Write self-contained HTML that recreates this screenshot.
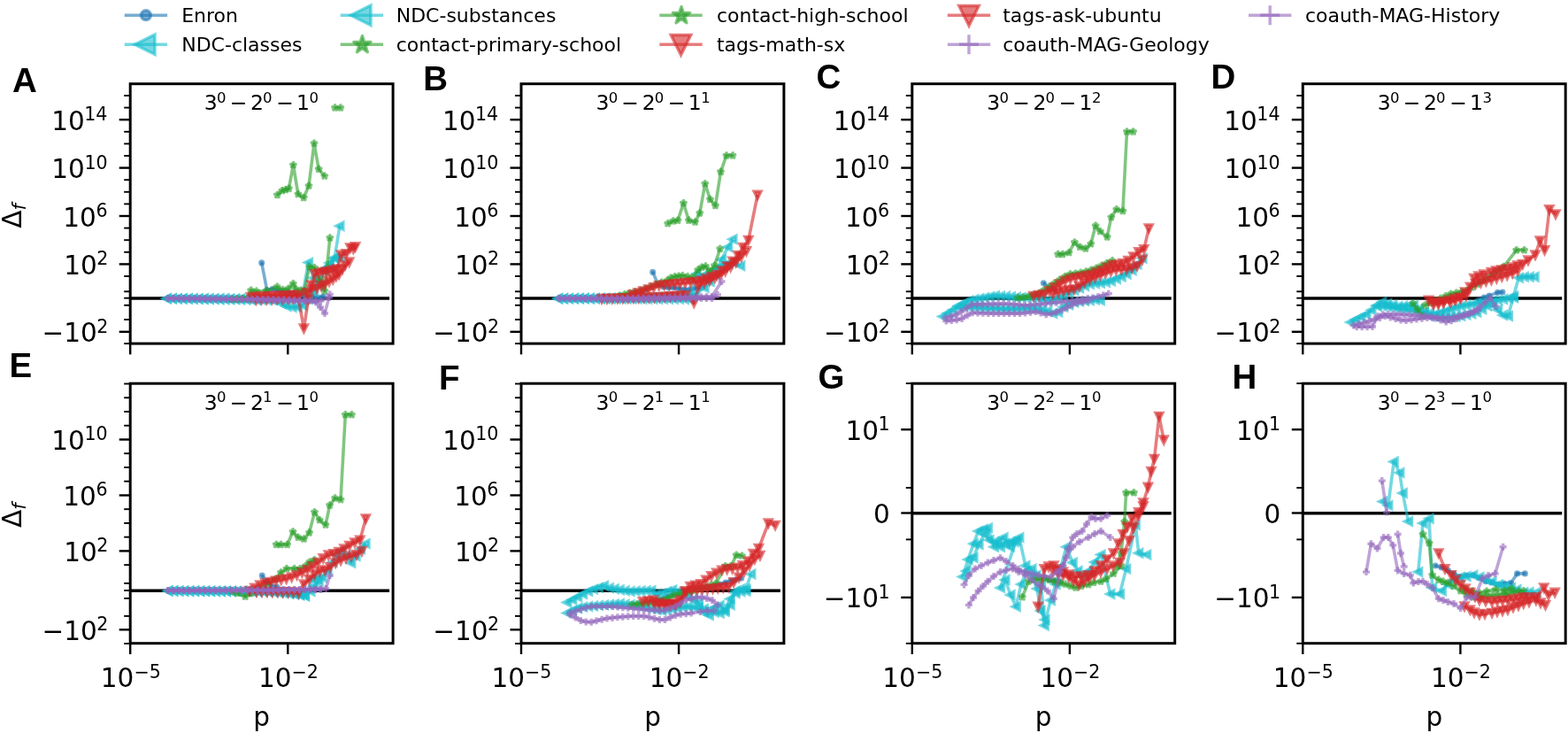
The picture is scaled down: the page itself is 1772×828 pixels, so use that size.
<!DOCTYPE html><html><head><meta charset="utf-8"><style>html,body{margin:0;padding:0;background:#fff;}svg{display:block} text{font-family:"DejaVu Sans","Liberation Sans",sans-serif;fill:#000}</style></head><body>
<svg width="1772" height="828" viewBox="0 0 1772 828">
<rect width="1772" height="828" fill="#fff"/>
<defs>
<circle id="mb0" r="1.85" fill="#1f77b4" fill-opacity="0.6" stroke="#1f77b4" stroke-opacity="0.6" stroke-width="3.4"/>
<path id="mb1" d="M-3.95,0L3.95,-3.95L3.95,3.95Z" fill="#1f77b4" fill-opacity="0.6" stroke="#1f77b4" stroke-opacity="0.6" stroke-width="3.4" stroke-linejoin="miter"/>
<path id="mb2" d="M0,3.95L-3.95,-3.95L3.95,-3.95Z" fill="#1f77b4" fill-opacity="0.6" stroke="#1f77b4" stroke-opacity="0.6" stroke-width="3.4" stroke-linejoin="miter"/>
<path id="mb3" d="M0.00,-2.70L-0.61,-0.83L-2.57,-0.83L-0.98,0.32L-1.59,2.18L-0.00,1.03L1.59,2.18L0.98,0.32L2.57,-0.83L0.61,-0.83Z" fill="#1f77b4" fill-opacity="0.6" stroke="#1f77b4" stroke-opacity="0.6" stroke-width="3.8" stroke-linejoin="round"/>
<path id="mb4" d="M-4.00,0H4.00M0,-4.00V4.00" fill="none" stroke="#1f77b4" stroke-opacity="0.6" stroke-width="3.4"/>
<circle id="mc0" r="1.85" fill="#17becf" fill-opacity="0.6" stroke="#17becf" stroke-opacity="0.6" stroke-width="3.4"/>
<path id="mc1" d="M-3.95,0L3.95,-3.95L3.95,3.95Z" fill="#17becf" fill-opacity="0.6" stroke="#17becf" stroke-opacity="0.6" stroke-width="3.4" stroke-linejoin="miter"/>
<path id="mc2" d="M0,3.95L-3.95,-3.95L3.95,-3.95Z" fill="#17becf" fill-opacity="0.6" stroke="#17becf" stroke-opacity="0.6" stroke-width="3.4" stroke-linejoin="miter"/>
<path id="mc3" d="M0.00,-2.70L-0.61,-0.83L-2.57,-0.83L-0.98,0.32L-1.59,2.18L-0.00,1.03L1.59,2.18L0.98,0.32L2.57,-0.83L0.61,-0.83Z" fill="#17becf" fill-opacity="0.6" stroke="#17becf" stroke-opacity="0.6" stroke-width="3.8" stroke-linejoin="round"/>
<path id="mc4" d="M-4.00,0H4.00M0,-4.00V4.00" fill="none" stroke="#17becf" stroke-opacity="0.6" stroke-width="3.4"/>
<circle id="mg0" r="1.85" fill="#2ca02c" fill-opacity="0.6" stroke="#2ca02c" stroke-opacity="0.6" stroke-width="3.4"/>
<path id="mg1" d="M-3.95,0L3.95,-3.95L3.95,3.95Z" fill="#2ca02c" fill-opacity="0.6" stroke="#2ca02c" stroke-opacity="0.6" stroke-width="3.4" stroke-linejoin="miter"/>
<path id="mg2" d="M0,3.95L-3.95,-3.95L3.95,-3.95Z" fill="#2ca02c" fill-opacity="0.6" stroke="#2ca02c" stroke-opacity="0.6" stroke-width="3.4" stroke-linejoin="miter"/>
<path id="mg3" d="M0.00,-2.70L-0.61,-0.83L-2.57,-0.83L-0.98,0.32L-1.59,2.18L-0.00,1.03L1.59,2.18L0.98,0.32L2.57,-0.83L0.61,-0.83Z" fill="#2ca02c" fill-opacity="0.6" stroke="#2ca02c" stroke-opacity="0.6" stroke-width="3.8" stroke-linejoin="round"/>
<path id="mg4" d="M-4.00,0H4.00M0,-4.00V4.00" fill="none" stroke="#2ca02c" stroke-opacity="0.6" stroke-width="3.4"/>
<circle id="mr0" r="1.85" fill="#d62728" fill-opacity="0.6" stroke="#d62728" stroke-opacity="0.6" stroke-width="3.4"/>
<path id="mr1" d="M-3.95,0L3.95,-3.95L3.95,3.95Z" fill="#d62728" fill-opacity="0.6" stroke="#d62728" stroke-opacity="0.6" stroke-width="3.4" stroke-linejoin="miter"/>
<path id="mr2" d="M0,3.95L-3.95,-3.95L3.95,-3.95Z" fill="#d62728" fill-opacity="0.6" stroke="#d62728" stroke-opacity="0.6" stroke-width="3.4" stroke-linejoin="miter"/>
<path id="mr3" d="M0.00,-2.70L-0.61,-0.83L-2.57,-0.83L-0.98,0.32L-1.59,2.18L-0.00,1.03L1.59,2.18L0.98,0.32L2.57,-0.83L0.61,-0.83Z" fill="#d62728" fill-opacity="0.6" stroke="#d62728" stroke-opacity="0.6" stroke-width="3.8" stroke-linejoin="round"/>
<path id="mr4" d="M-4.00,0H4.00M0,-4.00V4.00" fill="none" stroke="#d62728" stroke-opacity="0.6" stroke-width="3.4"/>
<circle id="mp0" r="1.85" fill="#9467bd" fill-opacity="0.6" stroke="#9467bd" stroke-opacity="0.6" stroke-width="3.4"/>
<path id="mp1" d="M-3.95,0L3.95,-3.95L3.95,3.95Z" fill="#9467bd" fill-opacity="0.6" stroke="#9467bd" stroke-opacity="0.6" stroke-width="3.4" stroke-linejoin="miter"/>
<path id="mp2" d="M0,3.95L-3.95,-3.95L3.95,-3.95Z" fill="#9467bd" fill-opacity="0.6" stroke="#9467bd" stroke-opacity="0.6" stroke-width="3.4" stroke-linejoin="miter"/>
<path id="mp3" d="M0.00,-2.70L-0.61,-0.83L-2.57,-0.83L-0.98,0.32L-1.59,2.18L-0.00,1.03L1.59,2.18L0.98,0.32L2.57,-0.83L0.61,-0.83Z" fill="#9467bd" fill-opacity="0.6" stroke="#9467bd" stroke-opacity="0.6" stroke-width="3.8" stroke-linejoin="round"/>
<path id="mp4" d="M-4.00,0H4.00M0,-4.00V4.00" fill="none" stroke="#9467bd" stroke-opacity="0.6" stroke-width="3.4"/>
</defs>
<clipPath id="cp0"><rect x="147.2" y="94.7" width="296.9" height="293.40000000000003"/></clipPath>
<line x1="147.2" y1="337.0" x2="440.1" y2="337.0" stroke="#000" stroke-width="3.4"/>
<g clip-path="url(#cp0)"><polyline points="295.7,296.9 301.7,327.7 307.8,326.5 313.7,328.0 319.6,329.0 325.6,330.0 331.5,331.0 337.5,333.0 343.4,334.0 349.4,335.0 355.3,335.5 360.3,336.4 365.4,334.7" fill="none" stroke="#1f77b4" stroke-opacity="0.6" stroke-width="3.6" stroke-linejoin="round" stroke-linecap="butt"/>
<use href="#mb0" x="295.7" y="296.9"/>
<use href="#mb0" x="301.7" y="327.7"/>
<use href="#mb0" x="307.8" y="326.5"/>
<use href="#mb0" x="313.7" y="328.0"/>
<use href="#mb0" x="319.6" y="329.0"/>
<use href="#mb0" x="325.6" y="330.0"/>
<use href="#mb0" x="331.5" y="331.0"/>
<use href="#mb0" x="337.5" y="333.0"/>
<use href="#mb0" x="343.4" y="334.0"/>
<use href="#mb0" x="349.4" y="335.0"/>
<use href="#mb0" x="355.3" y="335.5"/>
<use href="#mb0" x="360.3" y="336.4"/>
<use href="#mb0" x="365.4" y="334.7"/>
<polyline points="188.5,337.0 194.4,337.0 200.4,337.1 206.3,337.1 212.3,337.1 218.2,337.1 224.2,337.2 230.1,337.2 236.1,337.2 242.0,337.3 247.9,337.3 253.9,337.3 259.8,337.4 265.8,337.4 271.7,337.4 277.7,337.4 283.6,337.5 289.5,337.5 295.5,337.3 301.4,337.1 307.4,336.9 313.3,336.7 319.3,336.5 325.2,336.4 331.2,336.2 342.5,330.0 348.5,296.6 354.4,314.0 360.4,322.0 366.3,304.0 372.3,297.0 378.2,291.0 383.9,255.2" fill="none" stroke="#17becf" stroke-opacity="0.6" stroke-width="3.6" stroke-linejoin="round" stroke-linecap="butt"/>
<use href="#mc1" x="188.5" y="337.0"/>
<use href="#mc1" x="194.4" y="337.0"/>
<use href="#mc1" x="200.4" y="337.1"/>
<use href="#mc1" x="206.3" y="337.1"/>
<use href="#mc1" x="212.3" y="337.1"/>
<use href="#mc1" x="218.2" y="337.1"/>
<use href="#mc1" x="224.2" y="337.2"/>
<use href="#mc1" x="230.1" y="337.2"/>
<use href="#mc1" x="236.1" y="337.2"/>
<use href="#mc1" x="242.0" y="337.3"/>
<use href="#mc1" x="247.9" y="337.3"/>
<use href="#mc1" x="253.9" y="337.3"/>
<use href="#mc1" x="259.8" y="337.4"/>
<use href="#mc1" x="265.8" y="337.4"/>
<use href="#mc1" x="271.7" y="337.4"/>
<use href="#mc1" x="277.7" y="337.4"/>
<use href="#mc1" x="283.6" y="337.5"/>
<use href="#mc1" x="289.5" y="337.5"/>
<use href="#mc1" x="295.5" y="337.3"/>
<use href="#mc1" x="301.4" y="337.1"/>
<use href="#mc1" x="307.4" y="336.9"/>
<use href="#mc1" x="313.3" y="336.7"/>
<use href="#mc1" x="319.3" y="336.5"/>
<use href="#mc1" x="325.2" y="336.4"/>
<use href="#mc1" x="331.2" y="336.2"/>
<use href="#mc1" x="342.5" y="330.0"/>
<use href="#mc1" x="348.5" y="296.6"/>
<use href="#mc1" x="354.4" y="314.0"/>
<use href="#mc1" x="360.4" y="322.0"/>
<use href="#mc1" x="366.3" y="304.0"/>
<use href="#mc1" x="372.3" y="297.0"/>
<use href="#mc1" x="378.2" y="291.0"/>
<use href="#mc1" x="383.9" y="255.2"/>
<polyline points="188.5,337.5 194.4,337.6 200.4,337.6 206.3,337.7 212.3,337.8 218.2,337.9 224.2,337.9 230.1,338.0 236.1,338.1 242.0,338.1 247.9,338.2 253.9,338.3 259.8,338.4 265.8,338.4 271.7,338.5 277.7,338.6 283.6,338.7 289.5,338.7 295.5,338.8 301.4,338.9 307.4,338.9 318.0,343.0 324.0,346.0 330.0,347.0 336.0,347.0 342.0,345.0 348.5,338.0 354.4,330.0 360.4,318.0 366.3,305.0 372.3,300.0 378.2,292.0 384.2,290.7" fill="none" stroke="#17becf" stroke-opacity="0.6" stroke-width="3.6" stroke-linejoin="round" stroke-linecap="butt"/>
<use href="#mc1" x="188.5" y="337.5"/>
<use href="#mc1" x="194.4" y="337.6"/>
<use href="#mc1" x="200.4" y="337.6"/>
<use href="#mc1" x="206.3" y="337.7"/>
<use href="#mc1" x="212.3" y="337.8"/>
<use href="#mc1" x="218.2" y="337.9"/>
<use href="#mc1" x="224.2" y="337.9"/>
<use href="#mc1" x="230.1" y="338.0"/>
<use href="#mc1" x="236.1" y="338.1"/>
<use href="#mc1" x="242.0" y="338.1"/>
<use href="#mc1" x="247.9" y="338.2"/>
<use href="#mc1" x="253.9" y="338.3"/>
<use href="#mc1" x="259.8" y="338.4"/>
<use href="#mc1" x="265.8" y="338.4"/>
<use href="#mc1" x="271.7" y="338.5"/>
<use href="#mc1" x="277.7" y="338.6"/>
<use href="#mc1" x="283.6" y="338.7"/>
<use href="#mc1" x="289.5" y="338.7"/>
<use href="#mc1" x="295.5" y="338.8"/>
<use href="#mc1" x="301.4" y="338.9"/>
<use href="#mc1" x="307.4" y="338.9"/>
<use href="#mc1" x="318.0" y="343.0"/>
<use href="#mc1" x="324.0" y="346.0"/>
<use href="#mc1" x="330.0" y="347.0"/>
<use href="#mc1" x="336.0" y="347.0"/>
<use href="#mc1" x="342.0" y="345.0"/>
<use href="#mc1" x="348.5" y="338.0"/>
<use href="#mc1" x="354.4" y="330.0"/>
<use href="#mc1" x="360.4" y="318.0"/>
<use href="#mc1" x="366.3" y="305.0"/>
<use href="#mc1" x="372.3" y="300.0"/>
<use href="#mc1" x="378.2" y="292.0"/>
<use href="#mc1" x="384.2" y="290.7"/>
<polyline points="262.0,338.0 267.9,337.7 273.9,337.3 279.8,337.0 283.6,328.0 289.7,329.0 301.0,328.5 313.2,324.0 319.5,327.5 325.9,326.0 331.3,320.4 334.3,326.5 340.0,328.0 344.0,328.3 349.6,301.6 355.4,302.5 361.0,316.0 366.9,328.6 372.8,268.7" fill="none" stroke="#2ca02c" stroke-opacity="0.6" stroke-width="3.6" stroke-linejoin="round" stroke-linecap="butt"/>
<use href="#mg3" x="262.0" y="338.0"/>
<use href="#mg3" x="267.9" y="337.7"/>
<use href="#mg3" x="273.9" y="337.3"/>
<use href="#mg3" x="279.8" y="337.0"/>
<use href="#mg3" x="283.6" y="328.0"/>
<use href="#mg3" x="289.7" y="329.0"/>
<use href="#mg3" x="301.0" y="328.5"/>
<use href="#mg3" x="313.2" y="324.0"/>
<use href="#mg3" x="319.5" y="327.5"/>
<use href="#mg3" x="325.9" y="326.0"/>
<use href="#mg3" x="331.3" y="320.4"/>
<use href="#mg3" x="334.3" y="326.5"/>
<use href="#mg3" x="340.0" y="328.0"/>
<use href="#mg3" x="344.0" y="328.3"/>
<use href="#mg3" x="349.6" y="301.6"/>
<use href="#mg3" x="355.4" y="302.5"/>
<use href="#mg3" x="361.0" y="316.0"/>
<use href="#mg3" x="366.9" y="328.6"/>
<use href="#mg3" x="372.8" y="268.7"/>
<polyline points="313.4,220.2 318.8,215.4 322.8,214.3 326.4,213.1 331.4,186.4 336.9,219.4 343.2,223.3 349.0,209.9 355.0,162.0 360.2,191.1 366.8,198.9" fill="none" stroke="#2ca02c" stroke-opacity="0.6" stroke-width="3.6" stroke-linejoin="round" stroke-linecap="butt"/>
<polyline points="378.5,121.7 384.8,121.7" fill="none" stroke="#2ca02c" stroke-opacity="0.6" stroke-width="3.6" stroke-linejoin="round" stroke-linecap="butt"/>
<use href="#mg3" x="313.4" y="220.2"/>
<use href="#mg3" x="318.8" y="215.4"/>
<use href="#mg3" x="322.8" y="214.3"/>
<use href="#mg3" x="326.4" y="213.1"/>
<use href="#mg3" x="331.4" y="186.4"/>
<use href="#mg3" x="336.9" y="219.4"/>
<use href="#mg3" x="343.2" y="223.3"/>
<use href="#mg3" x="349.0" y="209.9"/>
<use href="#mg3" x="355.0" y="162.0"/>
<use href="#mg3" x="360.2" y="191.1"/>
<use href="#mg3" x="366.8" y="198.9"/>
<use href="#mg3" x="378.5" y="121.7"/>
<use href="#mg3" x="384.8" y="121.7"/>
<polyline points="283.5,335.5 289.4,335.2 295.4,335.0 301.3,334.7 307.3,334.4 313.2,334.2 319.2,333.9 325.1,333.7 331.1,333.4 337.0,333.1 346.5,330.4 352.0,327.0 358.0,325.8 363.0,323.0 367.1,321.2 372.0,318.0 376.3,315.4 380.0,312.0 383.2,309.7 387.0,304.0 390.1,299.4 394.7,295.9" fill="none" stroke="#d62728" stroke-opacity="0.6" stroke-width="3.6" stroke-linejoin="round" stroke-linecap="butt"/>
<use href="#mr2" x="283.5" y="335.5"/>
<use href="#mr2" x="289.4" y="335.2"/>
<use href="#mr2" x="295.4" y="335.0"/>
<use href="#mr2" x="301.3" y="334.7"/>
<use href="#mr2" x="307.3" y="334.4"/>
<use href="#mr2" x="313.2" y="334.2"/>
<use href="#mr2" x="319.2" y="333.9"/>
<use href="#mr2" x="325.1" y="333.7"/>
<use href="#mr2" x="331.1" y="333.4"/>
<use href="#mr2" x="337.0" y="333.1"/>
<use href="#mr2" x="346.5" y="330.4"/>
<use href="#mr2" x="352.0" y="327.0"/>
<use href="#mr2" x="358.0" y="325.8"/>
<use href="#mr2" x="363.0" y="323.0"/>
<use href="#mr2" x="367.1" y="321.2"/>
<use href="#mr2" x="372.0" y="318.0"/>
<use href="#mr2" x="376.3" y="315.4"/>
<use href="#mr2" x="380.0" y="312.0"/>
<use href="#mr2" x="383.2" y="309.7"/>
<use href="#mr2" x="387.0" y="304.0"/>
<use href="#mr2" x="390.1" y="299.4"/>
<use href="#mr2" x="394.7" y="295.9"/>
<polyline points="289.6,338.5 295.5,338.3 301.5,338.1 307.4,337.9 313.4,337.8 319.3,337.6 325.3,337.4 331.2,337.2 337.2,337.0 343.4,371.0 348.5,338.0 352.0,322.0 355.7,309.7 360.3,308.5 364.9,307.4 368.9,306.8 372.9,306.3 376.9,305.0 380.9,304.0 385.5,287.9 391.3,286.7 395.8,279.9 399.3,281.0 401.6,278.7" fill="none" stroke="#d62728" stroke-opacity="0.6" stroke-width="3.6" stroke-linejoin="round" stroke-linecap="butt"/>
<use href="#mr2" x="289.6" y="338.5"/>
<use href="#mr2" x="295.5" y="338.3"/>
<use href="#mr2" x="301.5" y="338.1"/>
<use href="#mr2" x="307.4" y="337.9"/>
<use href="#mr2" x="313.4" y="337.8"/>
<use href="#mr2" x="319.3" y="337.6"/>
<use href="#mr2" x="325.3" y="337.4"/>
<use href="#mr2" x="331.2" y="337.2"/>
<use href="#mr2" x="337.2" y="337.0"/>
<use href="#mr2" x="343.4" y="371.0"/>
<use href="#mr2" x="348.5" y="338.0"/>
<use href="#mr2" x="352.0" y="322.0"/>
<use href="#mr2" x="355.7" y="309.7"/>
<use href="#mr2" x="360.3" y="308.5"/>
<use href="#mr2" x="364.9" y="307.4"/>
<use href="#mr2" x="368.9" y="306.8"/>
<use href="#mr2" x="372.9" y="306.3"/>
<use href="#mr2" x="376.9" y="305.0"/>
<use href="#mr2" x="380.9" y="304.0"/>
<use href="#mr2" x="385.5" y="287.9"/>
<use href="#mr2" x="391.3" y="286.7"/>
<use href="#mr2" x="395.8" y="279.9"/>
<use href="#mr2" x="399.3" y="281.0"/>
<use href="#mr2" x="401.6" y="278.7"/>
<polyline points="190.0,337.0 195.9,337.1 201.9,337.2 207.8,337.3 213.8,337.4 219.7,337.4 225.7,337.5 231.6,337.6 237.6,337.7 243.5,337.8 249.4,337.9 255.4,338.0 261.3,338.1 267.3,338.2 273.2,338.2 279.2,338.3 285.1,338.4 291.0,338.5 297.0,338.7 302.9,338.8 308.9,339.0 314.8,339.1 320.8,339.3 326.7,339.4 332.7,339.6 338.6,339.7 344.5,339.9 357.0,341.4 362.0,347.0 367.0,354.0 372.8,332.5" fill="none" stroke="#9467bd" stroke-opacity="0.6" stroke-width="3.6" stroke-linejoin="round" stroke-linecap="butt"/>
<use href="#mp4" x="190.0" y="337.0"/>
<use href="#mp4" x="195.9" y="337.1"/>
<use href="#mp4" x="201.9" y="337.2"/>
<use href="#mp4" x="207.8" y="337.3"/>
<use href="#mp4" x="213.8" y="337.4"/>
<use href="#mp4" x="219.7" y="337.4"/>
<use href="#mp4" x="225.7" y="337.5"/>
<use href="#mp4" x="231.6" y="337.6"/>
<use href="#mp4" x="237.6" y="337.7"/>
<use href="#mp4" x="243.5" y="337.8"/>
<use href="#mp4" x="249.4" y="337.9"/>
<use href="#mp4" x="255.4" y="338.0"/>
<use href="#mp4" x="261.3" y="338.1"/>
<use href="#mp4" x="267.3" y="338.2"/>
<use href="#mp4" x="273.2" y="338.2"/>
<use href="#mp4" x="279.2" y="338.3"/>
<use href="#mp4" x="285.1" y="338.4"/>
<use href="#mp4" x="291.0" y="338.5"/>
<use href="#mp4" x="297.0" y="338.7"/>
<use href="#mp4" x="302.9" y="338.8"/>
<use href="#mp4" x="308.9" y="339.0"/>
<use href="#mp4" x="314.8" y="339.1"/>
<use href="#mp4" x="320.8" y="339.3"/>
<use href="#mp4" x="326.7" y="339.4"/>
<use href="#mp4" x="332.7" y="339.6"/>
<use href="#mp4" x="338.6" y="339.7"/>
<use href="#mp4" x="344.5" y="339.9"/>
<use href="#mp4" x="357.0" y="341.4"/>
<use href="#mp4" x="362.0" y="347.0"/>
<use href="#mp4" x="367.0" y="354.0"/>
<use href="#mp4" x="372.8" y="332.5"/>
<polyline points="190.0,337.0 195.9,337.1 201.9,337.1 207.8,337.2 213.8,337.2 219.7,337.3 225.7,337.3 231.6,337.4 237.6,337.4 243.5,337.5 249.4,337.5 255.4,337.6 261.3,337.6 267.3,337.7 273.2,337.8 279.2,337.8 285.1,337.9 291.0,337.9 297.0,338.0 302.9,338.1 308.9,338.3 314.8,338.4 320.8,338.6 326.7,338.8 332.7,339.0 338.6,339.2 344.5,339.3 350.5,339.5 356.4,339.7 362.4,339.9 372.0,336.0" fill="none" stroke="#9467bd" stroke-opacity="0.6" stroke-width="3.6" stroke-linejoin="round" stroke-linecap="butt"/>
<use href="#mp4" x="190.0" y="337.0"/>
<use href="#mp4" x="195.9" y="337.1"/>
<use href="#mp4" x="201.9" y="337.1"/>
<use href="#mp4" x="207.8" y="337.2"/>
<use href="#mp4" x="213.8" y="337.2"/>
<use href="#mp4" x="219.7" y="337.3"/>
<use href="#mp4" x="225.7" y="337.3"/>
<use href="#mp4" x="231.6" y="337.4"/>
<use href="#mp4" x="237.6" y="337.4"/>
<use href="#mp4" x="243.5" y="337.5"/>
<use href="#mp4" x="249.4" y="337.5"/>
<use href="#mp4" x="255.4" y="337.6"/>
<use href="#mp4" x="261.3" y="337.6"/>
<use href="#mp4" x="267.3" y="337.7"/>
<use href="#mp4" x="273.2" y="337.8"/>
<use href="#mp4" x="279.2" y="337.8"/>
<use href="#mp4" x="285.1" y="337.9"/>
<use href="#mp4" x="291.0" y="337.9"/>
<use href="#mp4" x="297.0" y="338.0"/>
<use href="#mp4" x="302.9" y="338.1"/>
<use href="#mp4" x="308.9" y="338.3"/>
<use href="#mp4" x="314.8" y="338.4"/>
<use href="#mp4" x="320.8" y="338.6"/>
<use href="#mp4" x="326.7" y="338.8"/>
<use href="#mp4" x="332.7" y="339.0"/>
<use href="#mp4" x="338.6" y="339.2"/>
<use href="#mp4" x="344.5" y="339.3"/>
<use href="#mp4" x="350.5" y="339.5"/>
<use href="#mp4" x="356.4" y="339.7"/>
<use href="#mp4" x="362.4" y="339.9"/>
<use href="#mp4" x="372.0" y="336.0"/></g>
<rect x="147.2" y="94.7" width="296.9" height="293.40000000000003" fill="none" stroke="#000" stroke-width="3"/>
<line x1="134.7" y1="135.2" x2="147.2" y2="135.2" stroke="#000" stroke-width="2.4"/>
<text x="121.4" y="146.7" font-size="29.5" text-anchor="end">10<tspan font-size="20.6" dy="-10.6" dx="-0.5">14</tspan></text>
<line x1="134.7" y1="189.6" x2="147.2" y2="189.6" stroke="#000" stroke-width="2.4"/>
<text x="121.6" y="201.1" font-size="29.5" text-anchor="end">10<tspan font-size="20.6" dy="-10.6" dx="-0.5">10</tspan></text>
<line x1="134.7" y1="244.0" x2="147.2" y2="244.0" stroke="#000" stroke-width="2.4"/>
<text x="121.5" y="255.5" font-size="29.5" text-anchor="end">10<tspan font-size="20.6" dy="-10.6" dx="-0.5">6</tspan></text>
<line x1="134.7" y1="298.4" x2="147.2" y2="298.4" stroke="#000" stroke-width="2.4"/>
<text x="122.3" y="309.9" font-size="29.5" text-anchor="end">10<tspan font-size="20.6" dy="-10.6" dx="-0.5">2</tspan></text>
<line x1="134.7" y1="374.8" x2="147.2" y2="374.8" stroke="#000" stroke-width="2.4"/>
<text x="122.3" y="386.3" font-size="29.5" text-anchor="end">−10<tspan font-size="20.6" dy="-10.6" dx="-0.5">2</tspan></text>
<line x1="140.2" y1="312.0" x2="147.2" y2="312.0" stroke="#000" stroke-width="1.9"/>
<line x1="140.2" y1="284.79999999999995" x2="147.2" y2="284.79999999999995" stroke="#000" stroke-width="1.9"/>
<line x1="140.2" y1="271.2" x2="147.2" y2="271.2" stroke="#000" stroke-width="1.9"/>
<line x1="140.2" y1="257.59999999999997" x2="147.2" y2="257.59999999999997" stroke="#000" stroke-width="1.9"/>
<line x1="140.2" y1="230.39999999999998" x2="147.2" y2="230.39999999999998" stroke="#000" stroke-width="1.9"/>
<line x1="140.2" y1="216.79999999999998" x2="147.2" y2="216.79999999999998" stroke="#000" stroke-width="1.9"/>
<line x1="140.2" y1="203.2" x2="147.2" y2="203.2" stroke="#000" stroke-width="1.9"/>
<line x1="140.2" y1="176.0" x2="147.2" y2="176.0" stroke="#000" stroke-width="1.9"/>
<line x1="140.2" y1="162.39999999999998" x2="147.2" y2="162.39999999999998" stroke="#000" stroke-width="1.9"/>
<line x1="140.2" y1="148.79999999999998" x2="147.2" y2="148.79999999999998" stroke="#000" stroke-width="1.9"/>
<line x1="140.2" y1="121.6" x2="147.2" y2="121.6" stroke="#000" stroke-width="1.9"/>
<line x1="140.2" y1="107.99999999999997" x2="147.2" y2="107.99999999999997" stroke="#000" stroke-width="1.9"/>
<line x1="140.2" y1="329.3" x2="147.2" y2="329.3" stroke="#000" stroke-width="1.9"/>
<line x1="140.2" y1="336.7" x2="147.2" y2="336.7" stroke="#000" stroke-width="1.9"/>
<line x1="140.2" y1="344.8" x2="147.2" y2="344.8" stroke="#000" stroke-width="1.9"/>
<line x1="140.2" y1="361.0" x2="147.2" y2="361.0" stroke="#000" stroke-width="1.9"/>
<line x1="140.2" y1="388.1" x2="147.2" y2="388.1" stroke="#000" stroke-width="1.9"/>
<line x1="147.2" y1="388.1" x2="147.2" y2="400.40000000000003" stroke="#000" stroke-width="2.4"/>
<line x1="325.3" y1="388.1" x2="325.3" y2="400.40000000000003" stroke="#000" stroke-width="2.4"/>
<text x="230.75" y="123.90" font-size="23.5">3</text>
<text x="244.95" y="115.70" font-size="16.5">0</text>
<text x="259.65" y="123.90" font-size="23.5">−</text>
<text x="282.95" y="123.90" font-size="23.5">2</text>
<text x="297.05" y="115.70" font-size="16.5">0</text>
<text x="312.15" y="123.90" font-size="23.5">−</text>
<text x="334.95" y="123.90" font-size="23.5">1</text>
<text x="349.55" y="115.70" font-size="16.5">0</text>
<text x="13.9" y="103.6" font-size="38.5" font-weight="bold" style="font-family:'Liberation Sans',Arial,sans-serif">A</text>
<clipPath id="cp1"><rect x="589.0" y="94.7" width="296.9" height="293.40000000000003"/></clipPath>
<line x1="589.0" y1="337.0" x2="881.9" y2="337.0" stroke="#000" stroke-width="3.4"/>
<g clip-path="url(#cp1)"><polyline points="737.7,307.4 743.7,321.5 749.6,324.0 755.6,325.0 761.5,325.0 767.5,326.0 773.4,327.0 779.4,327.0 785.3,326.0 791.3,325.0" fill="none" stroke="#1f77b4" stroke-opacity="0.6" stroke-width="3.6" stroke-linejoin="round" stroke-linecap="butt"/>
<use href="#mb0" x="737.7" y="307.4"/>
<use href="#mb0" x="743.7" y="321.5"/>
<use href="#mb0" x="749.6" y="324.0"/>
<use href="#mb0" x="755.6" y="325.0"/>
<use href="#mb0" x="761.5" y="325.0"/>
<use href="#mb0" x="767.5" y="326.0"/>
<use href="#mb0" x="773.4" y="327.0"/>
<use href="#mb0" x="779.4" y="327.0"/>
<use href="#mb0" x="785.3" y="326.0"/>
<use href="#mb0" x="791.3" y="325.0"/>
<polyline points="630.7,337.0 636.6,337.0 642.6,336.9 648.5,336.9 654.5,336.8 660.4,336.8 666.4,336.7 672.3,336.7 678.3,336.7 684.2,336.6 690.1,336.6 696.1,336.5 702.0,336.4 708.0,336.3 713.9,336.2 719.9,336.0 725.8,335.9 731.7,335.7 737.7,335.6 743.6,335.4 749.6,335.3 755.5,335.1 761.5,334.9 767.4,334.5 773.4,334.1 779.3,333.7 785.2,333.3 796.0,325.0 802.0,318.0 808.0,310.0 815.5,293.2 822.6,279.1 828.0,270.2" fill="none" stroke="#17becf" stroke-opacity="0.6" stroke-width="3.6" stroke-linejoin="round" stroke-linecap="butt"/>
<use href="#mc1" x="630.7" y="337.0"/>
<use href="#mc1" x="636.6" y="337.0"/>
<use href="#mc1" x="642.6" y="336.9"/>
<use href="#mc1" x="648.5" y="336.9"/>
<use href="#mc1" x="654.5" y="336.8"/>
<use href="#mc1" x="660.4" y="336.8"/>
<use href="#mc1" x="666.4" y="336.7"/>
<use href="#mc1" x="672.3" y="336.7"/>
<use href="#mc1" x="678.3" y="336.7"/>
<use href="#mc1" x="684.2" y="336.6"/>
<use href="#mc1" x="690.1" y="336.6"/>
<use href="#mc1" x="696.1" y="336.5"/>
<use href="#mc1" x="702.0" y="336.4"/>
<use href="#mc1" x="708.0" y="336.3"/>
<use href="#mc1" x="713.9" y="336.2"/>
<use href="#mc1" x="719.9" y="336.0"/>
<use href="#mc1" x="725.8" y="335.9"/>
<use href="#mc1" x="731.7" y="335.7"/>
<use href="#mc1" x="737.7" y="335.6"/>
<use href="#mc1" x="743.6" y="335.4"/>
<use href="#mc1" x="749.6" y="335.3"/>
<use href="#mc1" x="755.5" y="335.1"/>
<use href="#mc1" x="761.5" y="334.9"/>
<use href="#mc1" x="767.4" y="334.5"/>
<use href="#mc1" x="773.4" y="334.1"/>
<use href="#mc1" x="779.3" y="333.7"/>
<use href="#mc1" x="785.2" y="333.3"/>
<use href="#mc1" x="796.0" y="325.0"/>
<use href="#mc1" x="802.0" y="318.0"/>
<use href="#mc1" x="808.0" y="310.0"/>
<use href="#mc1" x="815.5" y="293.2"/>
<use href="#mc1" x="822.6" y="279.1"/>
<use href="#mc1" x="828.0" y="270.2"/>
<polyline points="630.7,337.5 636.6,337.5 642.6,337.5 648.5,337.5 654.5,337.5 660.4,337.5 666.4,337.5 672.3,337.5 678.3,337.5 684.2,337.5 690.1,337.5 696.1,337.5 702.0,337.5 708.0,337.5 713.9,337.6 719.9,337.6 725.8,337.7 731.7,337.7 737.7,337.7 743.6,337.8 749.6,337.8 755.5,337.8 761.5,337.9 767.4,337.9 773.4,338.0 779.3,338.0 787.2,309.2 793.0,312.0 799.0,310.0 805.0,306.0 811.0,303.0 817.0,300.0 823.0,298.0 829.0,296.0 836.8,300.3" fill="none" stroke="#17becf" stroke-opacity="0.6" stroke-width="3.6" stroke-linejoin="round" stroke-linecap="butt"/>
<use href="#mc1" x="630.7" y="337.5"/>
<use href="#mc1" x="636.6" y="337.5"/>
<use href="#mc1" x="642.6" y="337.5"/>
<use href="#mc1" x="648.5" y="337.5"/>
<use href="#mc1" x="654.5" y="337.5"/>
<use href="#mc1" x="660.4" y="337.5"/>
<use href="#mc1" x="666.4" y="337.5"/>
<use href="#mc1" x="672.3" y="337.5"/>
<use href="#mc1" x="678.3" y="337.5"/>
<use href="#mc1" x="684.2" y="337.5"/>
<use href="#mc1" x="690.1" y="337.5"/>
<use href="#mc1" x="696.1" y="337.5"/>
<use href="#mc1" x="702.0" y="337.5"/>
<use href="#mc1" x="708.0" y="337.5"/>
<use href="#mc1" x="713.9" y="337.6"/>
<use href="#mc1" x="719.9" y="337.6"/>
<use href="#mc1" x="725.8" y="337.7"/>
<use href="#mc1" x="731.7" y="337.7"/>
<use href="#mc1" x="737.7" y="337.7"/>
<use href="#mc1" x="743.6" y="337.8"/>
<use href="#mc1" x="749.6" y="337.8"/>
<use href="#mc1" x="755.5" y="337.8"/>
<use href="#mc1" x="761.5" y="337.9"/>
<use href="#mc1" x="767.4" y="337.9"/>
<use href="#mc1" x="773.4" y="338.0"/>
<use href="#mc1" x="779.3" y="338.0"/>
<use href="#mc1" x="787.2" y="309.2"/>
<use href="#mc1" x="793.0" y="312.0"/>
<use href="#mc1" x="799.0" y="310.0"/>
<use href="#mc1" x="805.0" y="306.0"/>
<use href="#mc1" x="811.0" y="303.0"/>
<use href="#mc1" x="817.0" y="300.0"/>
<use href="#mc1" x="823.0" y="298.0"/>
<use href="#mc1" x="829.0" y="296.0"/>
<use href="#mc1" x="836.8" y="300.3"/>
<polyline points="700.0,334.0 705.9,332.6 711.9,331.1 717.8,329.7 723.8,328.3 729.7,326.2 735.7,323.8 741.6,321.4 747.6,319.0 753.9,317.0 758.0,314.0 762.6,312.6 767.0,312.0 771.3,311.5 777.0,312.5 782.2,313.7 788.7,305.0 793.0,302.0 797.4,300.7 801.7,306.1 807.5,300.0 813.7,281.1" fill="none" stroke="#2ca02c" stroke-opacity="0.6" stroke-width="3.6" stroke-linejoin="round" stroke-linecap="butt"/>
<use href="#mg3" x="700.0" y="334.0"/>
<use href="#mg3" x="705.9" y="332.6"/>
<use href="#mg3" x="711.9" y="331.1"/>
<use href="#mg3" x="717.8" y="329.7"/>
<use href="#mg3" x="723.8" y="328.3"/>
<use href="#mg3" x="729.7" y="326.2"/>
<use href="#mg3" x="735.7" y="323.8"/>
<use href="#mg3" x="741.6" y="321.4"/>
<use href="#mg3" x="747.6" y="319.0"/>
<use href="#mg3" x="753.9" y="317.0"/>
<use href="#mg3" x="758.0" y="314.0"/>
<use href="#mg3" x="762.6" y="312.6"/>
<use href="#mg3" x="767.0" y="312.0"/>
<use href="#mg3" x="771.3" y="311.5"/>
<use href="#mg3" x="777.0" y="312.5"/>
<use href="#mg3" x="782.2" y="313.7"/>
<use href="#mg3" x="788.7" y="305.0"/>
<use href="#mg3" x="793.0" y="302.0"/>
<use href="#mg3" x="797.4" y="300.7"/>
<use href="#mg3" x="801.7" y="306.1"/>
<use href="#mg3" x="807.5" y="300.0"/>
<use href="#mg3" x="813.7" y="281.1"/>
<polyline points="754.7,252.5 760.7,249.7 766.0,249.0 772.4,229.5 778.4,249.0 785.5,250.8 790.8,240.8 796.8,207.6 802.5,225.3 808.5,232.3 814.5,194.1 820.9,175.7 828.0,175.7" fill="none" stroke="#2ca02c" stroke-opacity="0.6" stroke-width="3.6" stroke-linejoin="round" stroke-linecap="butt"/>
<use href="#mg3" x="754.7" y="252.5"/>
<use href="#mg3" x="760.7" y="249.7"/>
<use href="#mg3" x="766.0" y="249.0"/>
<use href="#mg3" x="772.4" y="229.5"/>
<use href="#mg3" x="778.4" y="249.0"/>
<use href="#mg3" x="785.5" y="250.8"/>
<use href="#mg3" x="790.8" y="240.8"/>
<use href="#mg3" x="796.8" y="207.6"/>
<use href="#mg3" x="802.5" y="225.3"/>
<use href="#mg3" x="808.5" y="232.3"/>
<use href="#mg3" x="814.5" y="194.1"/>
<use href="#mg3" x="820.9" y="175.7"/>
<use href="#mg3" x="828.0" y="175.7"/>
<polyline points="715.0,333.0 720.9,330.9 726.9,328.8 732.8,326.8 738.8,324.7 744.7,322.6 750.7,321.9 756.6,321.3 762.6,320.7 768.5,320.2 774.4,319.5 780.4,318.9 786.3,318.3 792.3,316.8 798.2,314.6 804.2,312.6 810.1,310.5 816.0,305.9 822.0,301.0 827.9,295.1 833.9,288.4 839.8,279.4 845.8,271.3 856.1,220.2" fill="none" stroke="#d62728" stroke-opacity="0.6" stroke-width="3.6" stroke-linejoin="round" stroke-linecap="butt"/>
<use href="#mr2" x="715.0" y="333.0"/>
<use href="#mr2" x="720.9" y="330.9"/>
<use href="#mr2" x="726.9" y="328.8"/>
<use href="#mr2" x="732.8" y="326.8"/>
<use href="#mr2" x="738.8" y="324.7"/>
<use href="#mr2" x="744.7" y="322.6"/>
<use href="#mr2" x="750.7" y="321.9"/>
<use href="#mr2" x="756.6" y="321.3"/>
<use href="#mr2" x="762.6" y="320.7"/>
<use href="#mr2" x="768.5" y="320.2"/>
<use href="#mr2" x="774.4" y="319.5"/>
<use href="#mr2" x="780.4" y="318.9"/>
<use href="#mr2" x="786.3" y="318.3"/>
<use href="#mr2" x="792.3" y="316.8"/>
<use href="#mr2" x="798.2" y="314.6"/>
<use href="#mr2" x="804.2" y="312.6"/>
<use href="#mr2" x="810.1" y="310.5"/>
<use href="#mr2" x="816.0" y="305.9"/>
<use href="#mr2" x="822.0" y="301.0"/>
<use href="#mr2" x="827.9" y="295.1"/>
<use href="#mr2" x="833.9" y="288.4"/>
<use href="#mr2" x="839.8" y="279.4"/>
<use href="#mr2" x="845.8" y="271.3"/>
<use href="#mr2" x="856.1" y="220.2"/>
<polyline points="680.0,337.5 685.9,337.4 691.9,337.2 697.8,337.1 703.8,336.9 709.7,336.8 715.7,336.6 721.6,336.5 727.6,336.3 733.5,336.2 739.4,336.0 745.4,335.6 751.3,335.2 757.3,334.7 763.2,334.3 769.2,333.8 775.1,333.4 784.3,342.0 790.0,322.0 795.9,319.6 801.9,317.0 807.8,313.8 813.8,310.7 819.7,306.2 825.7,301.5 831.6,296.3 837.6,289.9 843.5,283.6" fill="none" stroke="#d62728" stroke-opacity="0.6" stroke-width="3.6" stroke-linejoin="round" stroke-linecap="butt"/>
<use href="#mr2" x="680.0" y="337.5"/>
<use href="#mr2" x="685.9" y="337.4"/>
<use href="#mr2" x="691.9" y="337.2"/>
<use href="#mr2" x="697.8" y="337.1"/>
<use href="#mr2" x="703.8" y="336.9"/>
<use href="#mr2" x="709.7" y="336.8"/>
<use href="#mr2" x="715.7" y="336.6"/>
<use href="#mr2" x="721.6" y="336.5"/>
<use href="#mr2" x="727.6" y="336.3"/>
<use href="#mr2" x="733.5" y="336.2"/>
<use href="#mr2" x="739.4" y="336.0"/>
<use href="#mr2" x="745.4" y="335.6"/>
<use href="#mr2" x="751.3" y="335.2"/>
<use href="#mr2" x="757.3" y="334.7"/>
<use href="#mr2" x="763.2" y="334.3"/>
<use href="#mr2" x="769.2" y="333.8"/>
<use href="#mr2" x="775.1" y="333.4"/>
<use href="#mr2" x="784.3" y="342.0"/>
<use href="#mr2" x="790.0" y="322.0"/>
<use href="#mr2" x="795.9" y="319.6"/>
<use href="#mr2" x="801.9" y="317.0"/>
<use href="#mr2" x="807.8" y="313.8"/>
<use href="#mr2" x="813.8" y="310.7"/>
<use href="#mr2" x="819.7" y="306.2"/>
<use href="#mr2" x="825.7" y="301.5"/>
<use href="#mr2" x="831.6" y="296.3"/>
<use href="#mr2" x="837.6" y="289.9"/>
<use href="#mr2" x="843.5" y="283.6"/>
<polyline points="632.0,337.0 637.9,337.0 643.9,337.0 649.8,337.0 655.8,337.0 661.7,337.0 667.7,337.0 673.6,337.0 679.6,337.0 685.5,337.0 691.4,337.0 697.4,337.0 703.3,336.9 709.3,336.8 715.2,336.7 721.2,336.6 727.1,336.5 733.0,336.4 739.0,336.3 744.9,336.2 750.9,336.1 756.8,335.9 762.8,335.8 768.7,335.7 774.7,335.6 780.6,335.5 786.5,335.4 792.5,335.3 798.4,335.2 804.4,335.1 815.5,318.0" fill="none" stroke="#9467bd" stroke-opacity="0.6" stroke-width="3.6" stroke-linejoin="round" stroke-linecap="butt"/>
<use href="#mp4" x="632.0" y="337.0"/>
<use href="#mp4" x="637.9" y="337.0"/>
<use href="#mp4" x="643.9" y="337.0"/>
<use href="#mp4" x="649.8" y="337.0"/>
<use href="#mp4" x="655.8" y="337.0"/>
<use href="#mp4" x="661.7" y="337.0"/>
<use href="#mp4" x="667.7" y="337.0"/>
<use href="#mp4" x="673.6" y="337.0"/>
<use href="#mp4" x="679.6" y="337.0"/>
<use href="#mp4" x="685.5" y="337.0"/>
<use href="#mp4" x="691.4" y="337.0"/>
<use href="#mp4" x="697.4" y="337.0"/>
<use href="#mp4" x="703.3" y="336.9"/>
<use href="#mp4" x="709.3" y="336.8"/>
<use href="#mp4" x="715.2" y="336.7"/>
<use href="#mp4" x="721.2" y="336.6"/>
<use href="#mp4" x="727.1" y="336.5"/>
<use href="#mp4" x="733.0" y="336.4"/>
<use href="#mp4" x="739.0" y="336.3"/>
<use href="#mp4" x="744.9" y="336.2"/>
<use href="#mp4" x="750.9" y="336.1"/>
<use href="#mp4" x="756.8" y="335.9"/>
<use href="#mp4" x="762.8" y="335.8"/>
<use href="#mp4" x="768.7" y="335.7"/>
<use href="#mp4" x="774.7" y="335.6"/>
<use href="#mp4" x="780.6" y="335.5"/>
<use href="#mp4" x="786.5" y="335.4"/>
<use href="#mp4" x="792.5" y="335.3"/>
<use href="#mp4" x="798.4" y="335.2"/>
<use href="#mp4" x="804.4" y="335.1"/>
<use href="#mp4" x="815.5" y="318.0"/>
<polyline points="632.0,337.0 637.9,337.1 643.9,337.2 649.8,337.3 655.8,337.3 661.7,337.4 667.7,337.5 673.6,337.6 679.6,337.7 685.5,337.8 691.4,337.9 697.4,338.0 703.3,338.0 709.3,337.9 715.2,337.9 721.2,337.8 727.1,337.7 733.0,337.7 739.0,337.6 744.9,337.6 750.9,337.5 756.8,337.5 762.8,337.4 768.7,337.3 774.7,337.3 780.6,337.2 786.5,337.2 792.5,337.1 798.4,337.1 804.4,337.0 811.0,333.0" fill="none" stroke="#9467bd" stroke-opacity="0.6" stroke-width="3.6" stroke-linejoin="round" stroke-linecap="butt"/>
<use href="#mp4" x="632.0" y="337.0"/>
<use href="#mp4" x="637.9" y="337.1"/>
<use href="#mp4" x="643.9" y="337.2"/>
<use href="#mp4" x="649.8" y="337.3"/>
<use href="#mp4" x="655.8" y="337.3"/>
<use href="#mp4" x="661.7" y="337.4"/>
<use href="#mp4" x="667.7" y="337.5"/>
<use href="#mp4" x="673.6" y="337.6"/>
<use href="#mp4" x="679.6" y="337.7"/>
<use href="#mp4" x="685.5" y="337.8"/>
<use href="#mp4" x="691.4" y="337.9"/>
<use href="#mp4" x="697.4" y="338.0"/>
<use href="#mp4" x="703.3" y="338.0"/>
<use href="#mp4" x="709.3" y="337.9"/>
<use href="#mp4" x="715.2" y="337.9"/>
<use href="#mp4" x="721.2" y="337.8"/>
<use href="#mp4" x="727.1" y="337.7"/>
<use href="#mp4" x="733.0" y="337.7"/>
<use href="#mp4" x="739.0" y="337.6"/>
<use href="#mp4" x="744.9" y="337.6"/>
<use href="#mp4" x="750.9" y="337.5"/>
<use href="#mp4" x="756.8" y="337.5"/>
<use href="#mp4" x="762.8" y="337.4"/>
<use href="#mp4" x="768.7" y="337.3"/>
<use href="#mp4" x="774.7" y="337.3"/>
<use href="#mp4" x="780.6" y="337.2"/>
<use href="#mp4" x="786.5" y="337.2"/>
<use href="#mp4" x="792.5" y="337.1"/>
<use href="#mp4" x="798.4" y="337.1"/>
<use href="#mp4" x="804.4" y="337.0"/>
<use href="#mp4" x="811.0" y="333.0"/></g>
<rect x="589.0" y="94.7" width="296.9" height="293.40000000000003" fill="none" stroke="#000" stroke-width="3"/>
<line x1="576.5" y1="135.2" x2="589.0" y2="135.2" stroke="#000" stroke-width="2.4"/>
<text x="563.2" y="146.7" font-size="29.5" text-anchor="end">10<tspan font-size="20.6" dy="-10.6" dx="-0.5">14</tspan></text>
<line x1="576.5" y1="189.6" x2="589.0" y2="189.6" stroke="#000" stroke-width="2.4"/>
<text x="563.4" y="201.1" font-size="29.5" text-anchor="end">10<tspan font-size="20.6" dy="-10.6" dx="-0.5">10</tspan></text>
<line x1="576.5" y1="244.0" x2="589.0" y2="244.0" stroke="#000" stroke-width="2.4"/>
<text x="563.3" y="255.5" font-size="29.5" text-anchor="end">10<tspan font-size="20.6" dy="-10.6" dx="-0.5">6</tspan></text>
<line x1="576.5" y1="298.4" x2="589.0" y2="298.4" stroke="#000" stroke-width="2.4"/>
<text x="564.1" y="309.9" font-size="29.5" text-anchor="end">10<tspan font-size="20.6" dy="-10.6" dx="-0.5">2</tspan></text>
<line x1="576.5" y1="374.8" x2="589.0" y2="374.8" stroke="#000" stroke-width="2.4"/>
<text x="564.1" y="386.3" font-size="29.5" text-anchor="end">−10<tspan font-size="20.6" dy="-10.6" dx="-0.5">2</tspan></text>
<line x1="582.0" y1="312.0" x2="589.0" y2="312.0" stroke="#000" stroke-width="1.9"/>
<line x1="582.0" y1="284.79999999999995" x2="589.0" y2="284.79999999999995" stroke="#000" stroke-width="1.9"/>
<line x1="582.0" y1="271.2" x2="589.0" y2="271.2" stroke="#000" stroke-width="1.9"/>
<line x1="582.0" y1="257.59999999999997" x2="589.0" y2="257.59999999999997" stroke="#000" stroke-width="1.9"/>
<line x1="582.0" y1="230.39999999999998" x2="589.0" y2="230.39999999999998" stroke="#000" stroke-width="1.9"/>
<line x1="582.0" y1="216.79999999999998" x2="589.0" y2="216.79999999999998" stroke="#000" stroke-width="1.9"/>
<line x1="582.0" y1="203.2" x2="589.0" y2="203.2" stroke="#000" stroke-width="1.9"/>
<line x1="582.0" y1="176.0" x2="589.0" y2="176.0" stroke="#000" stroke-width="1.9"/>
<line x1="582.0" y1="162.39999999999998" x2="589.0" y2="162.39999999999998" stroke="#000" stroke-width="1.9"/>
<line x1="582.0" y1="148.79999999999998" x2="589.0" y2="148.79999999999998" stroke="#000" stroke-width="1.9"/>
<line x1="582.0" y1="121.6" x2="589.0" y2="121.6" stroke="#000" stroke-width="1.9"/>
<line x1="582.0" y1="107.99999999999997" x2="589.0" y2="107.99999999999997" stroke="#000" stroke-width="1.9"/>
<line x1="582.0" y1="329.3" x2="589.0" y2="329.3" stroke="#000" stroke-width="1.9"/>
<line x1="582.0" y1="336.7" x2="589.0" y2="336.7" stroke="#000" stroke-width="1.9"/>
<line x1="582.0" y1="344.8" x2="589.0" y2="344.8" stroke="#000" stroke-width="1.9"/>
<line x1="582.0" y1="361.0" x2="589.0" y2="361.0" stroke="#000" stroke-width="1.9"/>
<line x1="582.0" y1="388.1" x2="589.0" y2="388.1" stroke="#000" stroke-width="1.9"/>
<line x1="589.0" y1="388.1" x2="589.0" y2="400.40000000000003" stroke="#000" stroke-width="2.4"/>
<line x1="767.1" y1="388.1" x2="767.1" y2="400.40000000000003" stroke="#000" stroke-width="2.4"/>
<text x="673.45" y="123.90" font-size="23.5">3</text>
<text x="687.65" y="115.70" font-size="16.5">0</text>
<text x="702.35" y="123.90" font-size="23.5">−</text>
<text x="725.65" y="123.90" font-size="23.5">2</text>
<text x="739.75" y="115.70" font-size="16.5">0</text>
<text x="754.85" y="123.90" font-size="23.5">−</text>
<text x="777.65" y="123.90" font-size="23.5">1</text>
<text x="792.25" y="115.70" font-size="16.5">1</text>
<text x="478.2" y="101.8" font-size="38.5" font-weight="bold" style="font-family:'Liberation Sans',Arial,sans-serif">B</text>
<clipPath id="cp2"><rect x="1030.8" y="94.7" width="296.9" height="293.40000000000003"/></clipPath>
<line x1="1030.8" y1="337.0" x2="1323.7" y2="337.0" stroke="#000" stroke-width="3.4"/>
<g clip-path="url(#cp2)"><polyline points="1179.3,319.8 1186.6,325.1 1192.0,327.0" fill="none" stroke="#1f77b4" stroke-opacity="0.6" stroke-width="3.6" stroke-linejoin="round" stroke-linecap="butt"/>
<polyline points="1212.0,326.0 1218.4,323.7" fill="none" stroke="#1f77b4" stroke-opacity="0.6" stroke-width="3.6" stroke-linejoin="round" stroke-linecap="butt"/>
<polyline points="1276.0,304.0 1282.2,302.5" fill="none" stroke="#1f77b4" stroke-opacity="0.6" stroke-width="3.6" stroke-linejoin="round" stroke-linecap="butt"/>
<use href="#mb0" x="1179.3" y="319.8"/>
<use href="#mb0" x="1186.6" y="325.1"/>
<use href="#mb0" x="1192.0" y="327.0"/>
<use href="#mb0" x="1212.0" y="326.0"/>
<use href="#mb0" x="1218.4" y="323.7"/>
<use href="#mb0" x="1276.0" y="304.0"/>
<use href="#mb0" x="1282.2" y="302.5"/>
<polyline points="1065.1,357.5 1071.0,353.8 1077.0,350.1 1082.9,346.4 1088.9,342.8 1094.8,339.5 1100.8,338.3 1106.7,337.2 1112.7,336.1 1118.6,335.1 1124.5,334.1 1130.5,334.4 1136.4,334.8 1142.4,335.2 1148.3,335.7 1154.3,336.1 1160.2,336.3 1166.1,336.6 1172.1,336.9 1178.0,337.7 1184.0,339.1 1189.9,338.6 1195.9,336.6 1201.8,334.6 1207.8,330.9 1213.7,327.8 1219.6,325.4 1225.6,323.0 1231.5,321.0 1237.5,320.3 1243.4,319.7 1249.4,318.9 1255.3,317.5 1261.3,315.1 1267.2,312.6 1273.1,309.7 1279.1,305.3 1285.0,298.5 1291.0,291.8" fill="none" stroke="#17becf" stroke-opacity="0.6" stroke-width="3.6" stroke-linejoin="round" stroke-linecap="butt"/>
<use href="#mc1" x="1065.1" y="357.5"/>
<use href="#mc1" x="1071.0" y="353.8"/>
<use href="#mc1" x="1077.0" y="350.1"/>
<use href="#mc1" x="1082.9" y="346.4"/>
<use href="#mc1" x="1088.9" y="342.8"/>
<use href="#mc1" x="1094.8" y="339.5"/>
<use href="#mc1" x="1100.8" y="338.3"/>
<use href="#mc1" x="1106.7" y="337.2"/>
<use href="#mc1" x="1112.7" y="336.1"/>
<use href="#mc1" x="1118.6" y="335.1"/>
<use href="#mc1" x="1124.5" y="334.1"/>
<use href="#mc1" x="1130.5" y="334.4"/>
<use href="#mc1" x="1136.4" y="334.8"/>
<use href="#mc1" x="1142.4" y="335.2"/>
<use href="#mc1" x="1148.3" y="335.7"/>
<use href="#mc1" x="1154.3" y="336.1"/>
<use href="#mc1" x="1160.2" y="336.3"/>
<use href="#mc1" x="1166.1" y="336.6"/>
<use href="#mc1" x="1172.1" y="336.9"/>
<use href="#mc1" x="1178.0" y="337.7"/>
<use href="#mc1" x="1184.0" y="339.1"/>
<use href="#mc1" x="1189.9" y="338.6"/>
<use href="#mc1" x="1195.9" y="336.6"/>
<use href="#mc1" x="1201.8" y="334.6"/>
<use href="#mc1" x="1207.8" y="330.9"/>
<use href="#mc1" x="1213.7" y="327.8"/>
<use href="#mc1" x="1219.6" y="325.4"/>
<use href="#mc1" x="1225.6" y="323.0"/>
<use href="#mc1" x="1231.5" y="321.0"/>
<use href="#mc1" x="1237.5" y="320.3"/>
<use href="#mc1" x="1243.4" y="319.7"/>
<use href="#mc1" x="1249.4" y="318.9"/>
<use href="#mc1" x="1255.3" y="317.5"/>
<use href="#mc1" x="1261.3" y="315.1"/>
<use href="#mc1" x="1267.2" y="312.6"/>
<use href="#mc1" x="1273.1" y="309.7"/>
<use href="#mc1" x="1279.1" y="305.3"/>
<use href="#mc1" x="1285.0" y="298.5"/>
<use href="#mc1" x="1291.0" y="291.8"/>
<polyline points="1082.8,345.6 1088.7,346.1 1094.7,346.6 1100.6,347.0 1106.6,347.4 1112.5,347.7 1118.5,348.0 1124.4,348.3 1130.4,348.6 1136.3,349.0 1142.2,348.8 1148.2,348.7 1154.1,348.5 1160.1,348.3 1166.0,348.1 1172.0,348.5 1177.9,349.8 1183.8,351.4 1189.8,354.1 1195.7,352.5 1201.7,346.8 1207.6,344.2 1213.6,341.6 1219.5,340.5 1225.5,339.9 1231.4,339.3 1237.3,338.6 1243.3,339.3" fill="none" stroke="#17becf" stroke-opacity="0.6" stroke-width="3.6" stroke-linejoin="round" stroke-linecap="butt"/>
<use href="#mc1" x="1082.8" y="345.6"/>
<use href="#mc1" x="1088.7" y="346.1"/>
<use href="#mc1" x="1094.7" y="346.6"/>
<use href="#mc1" x="1100.6" y="347.0"/>
<use href="#mc1" x="1106.6" y="347.4"/>
<use href="#mc1" x="1112.5" y="347.7"/>
<use href="#mc1" x="1118.5" y="348.0"/>
<use href="#mc1" x="1124.4" y="348.3"/>
<use href="#mc1" x="1130.4" y="348.6"/>
<use href="#mc1" x="1136.3" y="349.0"/>
<use href="#mc1" x="1142.2" y="348.8"/>
<use href="#mc1" x="1148.2" y="348.7"/>
<use href="#mc1" x="1154.1" y="348.5"/>
<use href="#mc1" x="1160.1" y="348.3"/>
<use href="#mc1" x="1166.0" y="348.1"/>
<use href="#mc1" x="1172.0" y="348.5"/>
<use href="#mc1" x="1177.9" y="349.8"/>
<use href="#mc1" x="1183.8" y="351.4"/>
<use href="#mc1" x="1189.8" y="354.1"/>
<use href="#mc1" x="1195.7" y="352.5"/>
<use href="#mc1" x="1201.7" y="346.8"/>
<use href="#mc1" x="1207.6" y="344.2"/>
<use href="#mc1" x="1213.6" y="341.6"/>
<use href="#mc1" x="1219.5" y="340.5"/>
<use href="#mc1" x="1225.5" y="339.9"/>
<use href="#mc1" x="1231.4" y="339.3"/>
<use href="#mc1" x="1237.3" y="338.6"/>
<use href="#mc1" x="1243.3" y="339.3"/>
<polyline points="1150.0,336.5 1155.9,336.0 1161.9,335.1 1167.8,333.3 1173.8,331.4 1179.7,327.7 1185.7,323.9 1191.6,320.0 1197.6,316.1 1203.5,312.4 1209.4,309.7 1215.4,309.1 1221.3,308.1 1227.3,306.8 1233.2,304.9 1239.2,302.8 1245.1,300.0 1251.0,297.3 1257.0,294.5" fill="none" stroke="#2ca02c" stroke-opacity="0.6" stroke-width="3.6" stroke-linejoin="round" stroke-linecap="butt"/>
<use href="#mg3" x="1150.0" y="336.5"/>
<use href="#mg3" x="1155.9" y="336.0"/>
<use href="#mg3" x="1161.9" y="335.1"/>
<use href="#mg3" x="1167.8" y="333.3"/>
<use href="#mg3" x="1173.8" y="331.4"/>
<use href="#mg3" x="1179.7" y="327.7"/>
<use href="#mg3" x="1185.7" y="323.9"/>
<use href="#mg3" x="1191.6" y="320.0"/>
<use href="#mg3" x="1197.6" y="316.1"/>
<use href="#mg3" x="1203.5" y="312.4"/>
<use href="#mg3" x="1209.4" y="309.7"/>
<use href="#mg3" x="1215.4" y="309.1"/>
<use href="#mg3" x="1221.3" y="308.1"/>
<use href="#mg3" x="1227.3" y="306.8"/>
<use href="#mg3" x="1233.2" y="304.9"/>
<use href="#mg3" x="1239.2" y="302.8"/>
<use href="#mg3" x="1245.1" y="300.0"/>
<use href="#mg3" x="1251.0" y="297.3"/>
<use href="#mg3" x="1257.0" y="294.5"/>
<polyline points="1195.6,287.2 1200.9,287.2 1208.0,285.4 1214.4,273.8 1220.4,279.1 1226.8,280.8 1232.8,275.5 1238.1,255.0 1243.4,261.4 1251.2,267.7 1255.8,245.4 1261.8,236.6 1268.9,238.4 1273.5,148.8 1280.6,148.8" fill="none" stroke="#2ca02c" stroke-opacity="0.6" stroke-width="3.6" stroke-linejoin="round" stroke-linecap="butt"/>
<use href="#mg3" x="1195.6" y="287.2"/>
<use href="#mg3" x="1200.9" y="287.2"/>
<use href="#mg3" x="1208.0" y="285.4"/>
<use href="#mg3" x="1214.4" y="273.8"/>
<use href="#mg3" x="1220.4" y="279.1"/>
<use href="#mg3" x="1226.8" y="280.8"/>
<use href="#mg3" x="1232.8" y="275.5"/>
<use href="#mg3" x="1238.1" y="255.0"/>
<use href="#mg3" x="1243.4" y="261.4"/>
<use href="#mg3" x="1251.2" y="267.7"/>
<use href="#mg3" x="1255.8" y="245.4"/>
<use href="#mg3" x="1261.8" y="236.6"/>
<use href="#mg3" x="1268.9" y="238.4"/>
<use href="#mg3" x="1273.5" y="148.8"/>
<use href="#mg3" x="1280.6" y="148.8"/>
<polyline points="1168.0,334.4 1173.9,333.4 1179.9,332.4 1185.8,328.6 1191.8,324.6 1197.7,321.0 1203.7,317.5 1209.6,315.2 1215.6,314.0 1221.5,312.8 1227.4,311.6 1233.4,310.3 1239.3,308.0 1245.3,305.6 1251.2,302.2 1257.2,299.4 1263.1,299.1 1269.0,297.5 1275.0,294.5 1280.9,289.8 1286.9,284.7 1292.8,281.6 1298.3,257.8" fill="none" stroke="#d62728" stroke-opacity="0.6" stroke-width="3.6" stroke-linejoin="round" stroke-linecap="butt"/>
<use href="#mr2" x="1168.0" y="334.4"/>
<use href="#mr2" x="1173.9" y="333.4"/>
<use href="#mr2" x="1179.9" y="332.4"/>
<use href="#mr2" x="1185.8" y="328.6"/>
<use href="#mr2" x="1191.8" y="324.6"/>
<use href="#mr2" x="1197.7" y="321.0"/>
<use href="#mr2" x="1203.7" y="317.5"/>
<use href="#mr2" x="1209.6" y="315.2"/>
<use href="#mr2" x="1215.6" y="314.0"/>
<use href="#mr2" x="1221.5" y="312.8"/>
<use href="#mr2" x="1227.4" y="311.6"/>
<use href="#mr2" x="1233.4" y="310.3"/>
<use href="#mr2" x="1239.3" y="308.0"/>
<use href="#mr2" x="1245.3" y="305.6"/>
<use href="#mr2" x="1251.2" y="302.2"/>
<use href="#mr2" x="1257.2" y="299.4"/>
<use href="#mr2" x="1263.1" y="299.1"/>
<use href="#mr2" x="1269.0" y="297.5"/>
<use href="#mr2" x="1275.0" y="294.5"/>
<use href="#mr2" x="1280.9" y="289.8"/>
<use href="#mr2" x="1286.9" y="284.7"/>
<use href="#mr2" x="1292.8" y="281.6"/>
<use href="#mr2" x="1298.3" y="257.8"/>
<polyline points="1190.0,332.0 1195.9,330.2 1201.9,328.7 1207.8,327.7 1213.8,326.7 1219.7,323.4 1225.7,319.0 1231.6,315.9 1237.6,313.2 1243.5,310.8 1249.4,308.6 1255.4,306.5 1261.3,304.9 1267.3,304.5 1273.2,304.1 1279.2,302.5 1285.1,300.4 1291.0,293.2" fill="none" stroke="#d62728" stroke-opacity="0.6" stroke-width="3.6" stroke-linejoin="round" stroke-linecap="butt"/>
<use href="#mr2" x="1190.0" y="332.0"/>
<use href="#mr2" x="1195.9" y="330.2"/>
<use href="#mr2" x="1201.9" y="328.7"/>
<use href="#mr2" x="1207.8" y="327.7"/>
<use href="#mr2" x="1213.8" y="326.7"/>
<use href="#mr2" x="1219.7" y="323.4"/>
<use href="#mr2" x="1225.7" y="319.0"/>
<use href="#mr2" x="1231.6" y="315.9"/>
<use href="#mr2" x="1237.6" y="313.2"/>
<use href="#mr2" x="1243.5" y="310.8"/>
<use href="#mr2" x="1249.4" y="308.6"/>
<use href="#mr2" x="1255.4" y="306.5"/>
<use href="#mr2" x="1261.3" y="304.9"/>
<use href="#mr2" x="1267.3" y="304.5"/>
<use href="#mr2" x="1273.2" y="304.1"/>
<use href="#mr2" x="1279.2" y="302.5"/>
<use href="#mr2" x="1285.1" y="300.4"/>
<use href="#mr2" x="1291.0" y="293.2"/>
<polyline points="1068.5,359.2 1074.4,357.4 1080.4,355.5 1086.3,352.0 1092.3,347.9 1098.2,344.0 1104.2,343.8 1110.1,343.7 1116.1,343.5 1122.0,343.4 1127.9,343.2 1133.9,343.1 1139.8,343.2 1145.8,343.8 1151.7,344.3 1157.7,344.8 1163.6,344.6 1169.5,344.0 1175.5,343.5 1181.4,342.9 1187.4,342.3 1193.3,341.7 1199.3,341.1 1205.2,340.5 1211.2,339.9 1217.1,339.1 1223.0,338.2 1229.0,337.3 1234.9,336.4 1240.9,335.3 1246.8,333.6 1252.8,331.8" fill="none" stroke="#9467bd" stroke-opacity="0.6" stroke-width="3.6" stroke-linejoin="round" stroke-linecap="butt"/>
<use href="#mp4" x="1068.5" y="359.2"/>
<use href="#mp4" x="1074.4" y="357.4"/>
<use href="#mp4" x="1080.4" y="355.5"/>
<use href="#mp4" x="1086.3" y="352.0"/>
<use href="#mp4" x="1092.3" y="347.9"/>
<use href="#mp4" x="1098.2" y="344.0"/>
<use href="#mp4" x="1104.2" y="343.8"/>
<use href="#mp4" x="1110.1" y="343.7"/>
<use href="#mp4" x="1116.1" y="343.5"/>
<use href="#mp4" x="1122.0" y="343.4"/>
<use href="#mp4" x="1127.9" y="343.2"/>
<use href="#mp4" x="1133.9" y="343.1"/>
<use href="#mp4" x="1139.8" y="343.2"/>
<use href="#mp4" x="1145.8" y="343.8"/>
<use href="#mp4" x="1151.7" y="344.3"/>
<use href="#mp4" x="1157.7" y="344.8"/>
<use href="#mp4" x="1163.6" y="344.6"/>
<use href="#mp4" x="1169.5" y="344.0"/>
<use href="#mp4" x="1175.5" y="343.5"/>
<use href="#mp4" x="1181.4" y="342.9"/>
<use href="#mp4" x="1187.4" y="342.3"/>
<use href="#mp4" x="1193.3" y="341.7"/>
<use href="#mp4" x="1199.3" y="341.1"/>
<use href="#mp4" x="1205.2" y="340.5"/>
<use href="#mp4" x="1211.2" y="339.9"/>
<use href="#mp4" x="1217.1" y="339.1"/>
<use href="#mp4" x="1223.0" y="338.2"/>
<use href="#mp4" x="1229.0" y="337.3"/>
<use href="#mp4" x="1234.9" y="336.4"/>
<use href="#mp4" x="1240.9" y="335.3"/>
<use href="#mp4" x="1246.8" y="333.6"/>
<use href="#mp4" x="1252.8" y="331.8"/>
<polyline points="1069.3,362.6 1075.2,362.0 1081.2,361.3 1087.1,359.9 1093.1,356.3 1099.0,353.3 1105.0,353.6 1110.9,353.8 1116.9,354.0 1122.8,354.1 1128.7,354.1 1134.7,354.1 1140.6,354.1 1146.6,354.1 1152.5,354.1 1158.5,353.4 1164.4,352.7 1170.3,352.1 1176.3,353.6 1182.2,355.2 1188.2,354.3 1194.1,352.5 1200.1,350.2 1206.0,347.2 1212.0,344.2 1217.9,342.0 1223.8,341.1 1229.8,340.2" fill="none" stroke="#9467bd" stroke-opacity="0.6" stroke-width="3.6" stroke-linejoin="round" stroke-linecap="butt"/>
<use href="#mp4" x="1069.3" y="362.6"/>
<use href="#mp4" x="1075.2" y="362.0"/>
<use href="#mp4" x="1081.2" y="361.3"/>
<use href="#mp4" x="1087.1" y="359.9"/>
<use href="#mp4" x="1093.1" y="356.3"/>
<use href="#mp4" x="1099.0" y="353.3"/>
<use href="#mp4" x="1105.0" y="353.6"/>
<use href="#mp4" x="1110.9" y="353.8"/>
<use href="#mp4" x="1116.9" y="354.0"/>
<use href="#mp4" x="1122.8" y="354.1"/>
<use href="#mp4" x="1128.7" y="354.1"/>
<use href="#mp4" x="1134.7" y="354.1"/>
<use href="#mp4" x="1140.6" y="354.1"/>
<use href="#mp4" x="1146.6" y="354.1"/>
<use href="#mp4" x="1152.5" y="354.1"/>
<use href="#mp4" x="1158.5" y="353.4"/>
<use href="#mp4" x="1164.4" y="352.7"/>
<use href="#mp4" x="1170.3" y="352.1"/>
<use href="#mp4" x="1176.3" y="353.6"/>
<use href="#mp4" x="1182.2" y="355.2"/>
<use href="#mp4" x="1188.2" y="354.3"/>
<use href="#mp4" x="1194.1" y="352.5"/>
<use href="#mp4" x="1200.1" y="350.2"/>
<use href="#mp4" x="1206.0" y="347.2"/>
<use href="#mp4" x="1212.0" y="344.2"/>
<use href="#mp4" x="1217.9" y="342.0"/>
<use href="#mp4" x="1223.8" y="341.1"/>
<use href="#mp4" x="1229.8" y="340.2"/></g>
<rect x="1030.8" y="94.7" width="296.9" height="293.40000000000003" fill="none" stroke="#000" stroke-width="3"/>
<line x1="1018.3" y1="135.2" x2="1030.8" y2="135.2" stroke="#000" stroke-width="2.4"/>
<text x="1005.0" y="146.7" font-size="29.5" text-anchor="end">10<tspan font-size="20.6" dy="-10.6" dx="-0.5">14</tspan></text>
<line x1="1018.3" y1="189.6" x2="1030.8" y2="189.6" stroke="#000" stroke-width="2.4"/>
<text x="1005.2" y="201.1" font-size="29.5" text-anchor="end">10<tspan font-size="20.6" dy="-10.6" dx="-0.5">10</tspan></text>
<line x1="1018.3" y1="244.0" x2="1030.8" y2="244.0" stroke="#000" stroke-width="2.4"/>
<text x="1005.1" y="255.5" font-size="29.5" text-anchor="end">10<tspan font-size="20.6" dy="-10.6" dx="-0.5">6</tspan></text>
<line x1="1018.3" y1="298.4" x2="1030.8" y2="298.4" stroke="#000" stroke-width="2.4"/>
<text x="1005.9" y="309.9" font-size="29.5" text-anchor="end">10<tspan font-size="20.6" dy="-10.6" dx="-0.5">2</tspan></text>
<line x1="1018.3" y1="374.8" x2="1030.8" y2="374.8" stroke="#000" stroke-width="2.4"/>
<text x="1005.9" y="386.3" font-size="29.5" text-anchor="end">−10<tspan font-size="20.6" dy="-10.6" dx="-0.5">2</tspan></text>
<line x1="1023.8" y1="312.0" x2="1030.8" y2="312.0" stroke="#000" stroke-width="1.9"/>
<line x1="1023.8" y1="284.79999999999995" x2="1030.8" y2="284.79999999999995" stroke="#000" stroke-width="1.9"/>
<line x1="1023.8" y1="271.2" x2="1030.8" y2="271.2" stroke="#000" stroke-width="1.9"/>
<line x1="1023.8" y1="257.59999999999997" x2="1030.8" y2="257.59999999999997" stroke="#000" stroke-width="1.9"/>
<line x1="1023.8" y1="230.39999999999998" x2="1030.8" y2="230.39999999999998" stroke="#000" stroke-width="1.9"/>
<line x1="1023.8" y1="216.79999999999998" x2="1030.8" y2="216.79999999999998" stroke="#000" stroke-width="1.9"/>
<line x1="1023.8" y1="203.2" x2="1030.8" y2="203.2" stroke="#000" stroke-width="1.9"/>
<line x1="1023.8" y1="176.0" x2="1030.8" y2="176.0" stroke="#000" stroke-width="1.9"/>
<line x1="1023.8" y1="162.39999999999998" x2="1030.8" y2="162.39999999999998" stroke="#000" stroke-width="1.9"/>
<line x1="1023.8" y1="148.79999999999998" x2="1030.8" y2="148.79999999999998" stroke="#000" stroke-width="1.9"/>
<line x1="1023.8" y1="121.6" x2="1030.8" y2="121.6" stroke="#000" stroke-width="1.9"/>
<line x1="1023.8" y1="107.99999999999997" x2="1030.8" y2="107.99999999999997" stroke="#000" stroke-width="1.9"/>
<line x1="1023.8" y1="329.3" x2="1030.8" y2="329.3" stroke="#000" stroke-width="1.9"/>
<line x1="1023.8" y1="336.7" x2="1030.8" y2="336.7" stroke="#000" stroke-width="1.9"/>
<line x1="1023.8" y1="344.8" x2="1030.8" y2="344.8" stroke="#000" stroke-width="1.9"/>
<line x1="1023.8" y1="361.0" x2="1030.8" y2="361.0" stroke="#000" stroke-width="1.9"/>
<line x1="1023.8" y1="388.1" x2="1030.8" y2="388.1" stroke="#000" stroke-width="1.9"/>
<line x1="1030.8" y1="388.1" x2="1030.8" y2="400.40000000000003" stroke="#000" stroke-width="2.4"/>
<line x1="1208.9" y1="388.1" x2="1208.9" y2="400.40000000000003" stroke="#000" stroke-width="2.4"/>
<text x="1115.25" y="123.90" font-size="23.5">3</text>
<text x="1129.45" y="115.70" font-size="16.5">0</text>
<text x="1144.15" y="123.90" font-size="23.5">−</text>
<text x="1167.45" y="123.90" font-size="23.5">2</text>
<text x="1181.55" y="115.70" font-size="16.5">0</text>
<text x="1196.65" y="123.90" font-size="23.5">−</text>
<text x="1219.45" y="123.90" font-size="23.5">1</text>
<text x="1234.05" y="115.70" font-size="16.5">2</text>
<text x="922.6" y="99.5" font-size="38.5" font-weight="bold" style="font-family:'Liberation Sans',Arial,sans-serif">C</text>
<clipPath id="cp3"><rect x="1472.3" y="94.7" width="296.9" height="293.40000000000003"/></clipPath>
<line x1="1472.3" y1="337.0" x2="1765.2" y2="337.0" stroke="#000" stroke-width="3.4"/>
<g clip-path="url(#cp3)"><polyline points="1671.2,339.2 1677.0,336.0 1683.0,334.0 1692.5,330.4 1698.0,330.0" fill="none" stroke="#1f77b4" stroke-opacity="0.6" stroke-width="3.6" stroke-linejoin="round" stroke-linecap="butt"/>
<use href="#mb0" x="1671.2" y="339.2"/>
<use href="#mb0" x="1677.0" y="336.0"/>
<use href="#mb0" x="1683.0" y="334.0"/>
<use href="#mb0" x="1692.5" y="330.4"/>
<use href="#mb0" x="1698.0" y="330.0"/>
<polyline points="1526.1,364.0 1532.0,361.0 1538.0,358.1 1543.9,355.1 1549.9,350.3 1555.8,345.6 1561.8,341.1 1567.7,342.9 1573.7,344.6 1579.6,346.3 1585.5,345.7 1591.5,345.1 1597.4,345.0 1603.4,349.1 1609.3,353.3 1615.3,357.1 1621.2,357.6 1627.1,358.2 1633.1,358.6 1639.0,358.1 1645.0,357.5 1650.9,356.8 1656.9,355.6 1662.8,354.4 1668.8,352.8 1674.7,349.2 1680.6,345.6 1686.6,344.0 1692.5,350.0 1698.5,356.0 1704.4,357.0 1710.4,334.5 1716.3,313.8 1722.3,312.7 1728.2,312.7 1734.1,312.7" fill="none" stroke="#17becf" stroke-opacity="0.6" stroke-width="3.6" stroke-linejoin="round" stroke-linecap="butt"/>
<use href="#mc1" x="1526.1" y="364.0"/>
<use href="#mc1" x="1532.0" y="361.0"/>
<use href="#mc1" x="1538.0" y="358.1"/>
<use href="#mc1" x="1543.9" y="355.1"/>
<use href="#mc1" x="1549.9" y="350.3"/>
<use href="#mc1" x="1555.8" y="345.6"/>
<use href="#mc1" x="1561.8" y="341.1"/>
<use href="#mc1" x="1567.7" y="342.9"/>
<use href="#mc1" x="1573.7" y="344.6"/>
<use href="#mc1" x="1579.6" y="346.3"/>
<use href="#mc1" x="1585.5" y="345.7"/>
<use href="#mc1" x="1591.5" y="345.1"/>
<use href="#mc1" x="1597.4" y="345.0"/>
<use href="#mc1" x="1603.4" y="349.1"/>
<use href="#mc1" x="1609.3" y="353.3"/>
<use href="#mc1" x="1615.3" y="357.1"/>
<use href="#mc1" x="1621.2" y="357.6"/>
<use href="#mc1" x="1627.1" y="358.2"/>
<use href="#mc1" x="1633.1" y="358.6"/>
<use href="#mc1" x="1639.0" y="358.1"/>
<use href="#mc1" x="1645.0" y="357.5"/>
<use href="#mc1" x="1650.9" y="356.8"/>
<use href="#mc1" x="1656.9" y="355.6"/>
<use href="#mc1" x="1662.8" y="354.4"/>
<use href="#mc1" x="1668.8" y="352.8"/>
<use href="#mc1" x="1674.7" y="349.2"/>
<use href="#mc1" x="1680.6" y="345.6"/>
<use href="#mc1" x="1686.6" y="344.0"/>
<use href="#mc1" x="1692.5" y="350.0"/>
<use href="#mc1" x="1698.5" y="356.0"/>
<use href="#mc1" x="1704.4" y="357.0"/>
<use href="#mc1" x="1710.4" y="334.5"/>
<use href="#mc1" x="1716.3" y="313.8"/>
<use href="#mc1" x="1722.3" y="312.7"/>
<use href="#mc1" x="1728.2" y="312.7"/>
<use href="#mc1" x="1734.1" y="312.7"/>
<polyline points="1556.0,345.0 1561.9,345.7 1567.9,346.5 1573.8,347.2 1579.8,348.0 1585.7,348.7 1591.7,349.5 1597.6,350.3 1603.6,351.5 1609.5,352.6 1615.4,353.7 1621.4,354.9 1627.3,353.3 1633.3,351.4 1639.2,349.5 1645.2,347.6 1651.1,345.8 1657.0,344.8 1663.0,343.8 1668.9,342.8 1674.9,341.7 1680.8,340.7 1686.8,339.7 1692.7,338.9 1698.7,338.0 1704.6,337.1 1710.5,336.2" fill="none" stroke="#17becf" stroke-opacity="0.6" stroke-width="3.6" stroke-linejoin="round" stroke-linecap="butt"/>
<use href="#mc1" x="1556.0" y="345.0"/>
<use href="#mc1" x="1561.9" y="345.7"/>
<use href="#mc1" x="1567.9" y="346.5"/>
<use href="#mc1" x="1573.8" y="347.2"/>
<use href="#mc1" x="1579.8" y="348.0"/>
<use href="#mc1" x="1585.7" y="348.7"/>
<use href="#mc1" x="1591.7" y="349.5"/>
<use href="#mc1" x="1597.6" y="350.3"/>
<use href="#mc1" x="1603.6" y="351.5"/>
<use href="#mc1" x="1609.5" y="352.6"/>
<use href="#mc1" x="1615.4" y="353.7"/>
<use href="#mc1" x="1621.4" y="354.9"/>
<use href="#mc1" x="1627.3" y="353.3"/>
<use href="#mc1" x="1633.3" y="351.4"/>
<use href="#mc1" x="1639.2" y="349.5"/>
<use href="#mc1" x="1645.2" y="347.6"/>
<use href="#mc1" x="1651.1" y="345.8"/>
<use href="#mc1" x="1657.0" y="344.8"/>
<use href="#mc1" x="1663.0" y="343.8"/>
<use href="#mc1" x="1668.9" y="342.8"/>
<use href="#mc1" x="1674.9" y="341.7"/>
<use href="#mc1" x="1680.8" y="340.7"/>
<use href="#mc1" x="1686.8" y="339.7"/>
<use href="#mc1" x="1692.7" y="338.9"/>
<use href="#mc1" x="1698.7" y="338.0"/>
<use href="#mc1" x="1704.6" y="337.1"/>
<use href="#mc1" x="1710.5" y="336.2"/>
<polyline points="1596.9,342.8 1602.0,350.0 1607.5,357.0" fill="none" stroke="#2ca02c" stroke-opacity="0.6" stroke-width="3.6" stroke-linejoin="round" stroke-linecap="butt"/>
<use href="#mg3" x="1596.9" y="342.8"/>
<use href="#mg3" x="1602.0" y="350.0"/>
<use href="#mg3" x="1607.5" y="357.0"/>
<polyline points="1610.0,345.0 1615.9,342.4 1621.9,339.8 1627.8,337.2 1633.8,334.6 1639.7,332.1 1645.7,330.9 1651.6,329.7 1657.6,328.3 1663.5,324.6 1669.4,320.9 1675.4,317.2 1681.3,313.5 1687.3,309.7 1693.2,305.5 1699.2,301.3 1713.7,282.6 1722.6,282.6" fill="none" stroke="#2ca02c" stroke-opacity="0.6" stroke-width="3.6" stroke-linejoin="round" stroke-linecap="butt"/>
<use href="#mg3" x="1610.0" y="345.0"/>
<use href="#mg3" x="1615.9" y="342.4"/>
<use href="#mg3" x="1621.9" y="339.8"/>
<use href="#mg3" x="1627.8" y="337.2"/>
<use href="#mg3" x="1633.8" y="334.6"/>
<use href="#mg3" x="1639.7" y="332.1"/>
<use href="#mg3" x="1645.7" y="330.9"/>
<use href="#mg3" x="1651.6" y="329.7"/>
<use href="#mg3" x="1657.6" y="328.3"/>
<use href="#mg3" x="1663.5" y="324.6"/>
<use href="#mg3" x="1669.4" y="320.9"/>
<use href="#mg3" x="1675.4" y="317.2"/>
<use href="#mg3" x="1681.3" y="313.5"/>
<use href="#mg3" x="1687.3" y="309.7"/>
<use href="#mg3" x="1693.2" y="305.5"/>
<use href="#mg3" x="1699.2" y="301.3"/>
<use href="#mg3" x="1713.7" y="282.6"/>
<use href="#mg3" x="1722.6" y="282.6"/>
<polyline points="1614.6,339.2 1620.0,341.0 1625.2,342.8 1631.0,342.0 1639.4,341.0 1645.0,339.0 1651.0,337.0 1657.1,334.0 1665.9,314.5 1671.0,312.0 1677.0,310.0 1685.4,307.4 1691.0,306.0 1697.0,305.0 1703.1,303.8 1709.0,302.0 1715.0,300.0 1720.8,298.5 1727.0,294.0 1735.0,287.9 1740.3,272.0 1745.6,282.6 1750.9,236.6 1758.0,241.9" fill="none" stroke="#d62728" stroke-opacity="0.6" stroke-width="3.6" stroke-linejoin="round" stroke-linecap="butt"/>
<use href="#mr2" x="1614.6" y="339.2"/>
<use href="#mr2" x="1620.0" y="341.0"/>
<use href="#mr2" x="1625.2" y="342.8"/>
<use href="#mr2" x="1631.0" y="342.0"/>
<use href="#mr2" x="1639.4" y="341.0"/>
<use href="#mr2" x="1645.0" y="339.0"/>
<use href="#mr2" x="1651.0" y="337.0"/>
<use href="#mr2" x="1657.1" y="334.0"/>
<use href="#mr2" x="1665.9" y="314.5"/>
<use href="#mr2" x="1671.0" y="312.0"/>
<use href="#mr2" x="1677.0" y="310.0"/>
<use href="#mr2" x="1685.4" y="307.4"/>
<use href="#mr2" x="1691.0" y="306.0"/>
<use href="#mr2" x="1697.0" y="305.0"/>
<use href="#mr2" x="1703.1" y="303.8"/>
<use href="#mr2" x="1709.0" y="302.0"/>
<use href="#mr2" x="1715.0" y="300.0"/>
<use href="#mr2" x="1720.8" y="298.5"/>
<use href="#mr2" x="1727.0" y="294.0"/>
<use href="#mr2" x="1735.0" y="287.9"/>
<use href="#mr2" x="1740.3" y="272.0"/>
<use href="#mr2" x="1745.6" y="282.6"/>
<use href="#mr2" x="1750.9" y="236.6"/>
<use href="#mr2" x="1758.0" y="241.9"/>
<polyline points="1620.0,344.0 1625.9,342.4 1631.9,340.7 1637.8,339.1 1643.8,337.4 1649.7,335.8 1655.7,330.0 1661.6,324.1 1667.6,320.7 1673.5,319.2 1679.4,317.7 1685.4,316.2 1691.3,314.4 1697.3,312.6 1703.2,310.9 1709.2,308.5 1715.1,306.1" fill="none" stroke="#d62728" stroke-opacity="0.6" stroke-width="3.6" stroke-linejoin="round" stroke-linecap="butt"/>
<use href="#mr2" x="1620.0" y="344.0"/>
<use href="#mr2" x="1625.9" y="342.4"/>
<use href="#mr2" x="1631.9" y="340.7"/>
<use href="#mr2" x="1637.8" y="339.1"/>
<use href="#mr2" x="1643.8" y="337.4"/>
<use href="#mr2" x="1649.7" y="335.8"/>
<use href="#mr2" x="1655.7" y="330.0"/>
<use href="#mr2" x="1661.6" y="324.1"/>
<use href="#mr2" x="1667.6" y="320.7"/>
<use href="#mr2" x="1673.5" y="319.2"/>
<use href="#mr2" x="1679.4" y="317.7"/>
<use href="#mr2" x="1685.4" y="316.2"/>
<use href="#mr2" x="1691.3" y="314.4"/>
<use href="#mr2" x="1697.3" y="312.6"/>
<use href="#mr2" x="1703.2" y="310.9"/>
<use href="#mr2" x="1709.2" y="308.5"/>
<use href="#mr2" x="1715.1" y="306.1"/>
<polyline points="1529.6,367.6 1535.5,366.1 1541.5,364.6 1547.4,362.8 1553.4,360.8 1559.3,358.9 1565.3,357.1 1571.2,358.5 1577.2,360.0 1583.1,361.5 1589.0,362.0 1595.0,361.2 1600.9,360.4 1606.9,359.7 1612.8,358.9 1618.8,358.7 1624.7,358.7 1630.6,358.7 1636.6,358.7 1642.5,358.7 1648.5,357.3 1654.4,355.8 1660.4,354.4 1666.3,351.6 1672.3,346.7 1678.2,341.7 1684.1,336.7 1690.1,345.9" fill="none" stroke="#9467bd" stroke-opacity="0.6" stroke-width="3.6" stroke-linejoin="round" stroke-linecap="butt"/>
<use href="#mp4" x="1529.6" y="367.6"/>
<use href="#mp4" x="1535.5" y="366.1"/>
<use href="#mp4" x="1541.5" y="364.6"/>
<use href="#mp4" x="1547.4" y="362.8"/>
<use href="#mp4" x="1553.4" y="360.8"/>
<use href="#mp4" x="1559.3" y="358.9"/>
<use href="#mp4" x="1565.3" y="357.1"/>
<use href="#mp4" x="1571.2" y="358.5"/>
<use href="#mp4" x="1577.2" y="360.0"/>
<use href="#mp4" x="1583.1" y="361.5"/>
<use href="#mp4" x="1589.0" y="362.0"/>
<use href="#mp4" x="1595.0" y="361.2"/>
<use href="#mp4" x="1600.9" y="360.4"/>
<use href="#mp4" x="1606.9" y="359.7"/>
<use href="#mp4" x="1612.8" y="358.9"/>
<use href="#mp4" x="1618.8" y="358.7"/>
<use href="#mp4" x="1624.7" y="358.7"/>
<use href="#mp4" x="1630.6" y="358.7"/>
<use href="#mp4" x="1636.6" y="358.7"/>
<use href="#mp4" x="1642.5" y="358.7"/>
<use href="#mp4" x="1648.5" y="357.3"/>
<use href="#mp4" x="1654.4" y="355.8"/>
<use href="#mp4" x="1660.4" y="354.4"/>
<use href="#mp4" x="1666.3" y="351.6"/>
<use href="#mp4" x="1672.3" y="346.7"/>
<use href="#mp4" x="1678.2" y="341.7"/>
<use href="#mp4" x="1684.1" y="336.7"/>
<use href="#mp4" x="1690.1" y="345.9"/>
<polyline points="1533.2,369.3 1539.1,369.3 1545.1,369.3 1551.0,369.0 1557.0,357.2 1562.9,355.2 1568.9,355.1 1574.8,355.0 1580.8,355.0 1586.7,355.4 1592.6,355.7 1598.6,356.1 1604.5,356.4 1610.5,356.8 1616.4,357.6 1622.4,359.6 1628.3,361.5 1634.2,363.5 1640.2,362.3 1646.1,359.9 1652.1,357.5 1658.0,355.1 1664.0,352.8 1669.9,350.4" fill="none" stroke="#9467bd" stroke-opacity="0.6" stroke-width="3.6" stroke-linejoin="round" stroke-linecap="butt"/>
<use href="#mp4" x="1533.2" y="369.3"/>
<use href="#mp4" x="1539.1" y="369.3"/>
<use href="#mp4" x="1545.1" y="369.3"/>
<use href="#mp4" x="1551.0" y="369.0"/>
<use href="#mp4" x="1557.0" y="357.2"/>
<use href="#mp4" x="1562.9" y="355.2"/>
<use href="#mp4" x="1568.9" y="355.1"/>
<use href="#mp4" x="1574.8" y="355.0"/>
<use href="#mp4" x="1580.8" y="355.0"/>
<use href="#mp4" x="1586.7" y="355.4"/>
<use href="#mp4" x="1592.6" y="355.7"/>
<use href="#mp4" x="1598.6" y="356.1"/>
<use href="#mp4" x="1604.5" y="356.4"/>
<use href="#mp4" x="1610.5" y="356.8"/>
<use href="#mp4" x="1616.4" y="357.6"/>
<use href="#mp4" x="1622.4" y="359.6"/>
<use href="#mp4" x="1628.3" y="361.5"/>
<use href="#mp4" x="1634.2" y="363.5"/>
<use href="#mp4" x="1640.2" y="362.3"/>
<use href="#mp4" x="1646.1" y="359.9"/>
<use href="#mp4" x="1652.1" y="357.5"/>
<use href="#mp4" x="1658.0" y="355.1"/>
<use href="#mp4" x="1664.0" y="352.8"/>
<use href="#mp4" x="1669.9" y="350.4"/></g>
<rect x="1472.3" y="94.7" width="296.9" height="293.40000000000003" fill="none" stroke="#000" stroke-width="3"/>
<line x1="1459.8" y1="135.2" x2="1472.3" y2="135.2" stroke="#000" stroke-width="2.4"/>
<text x="1446.5" y="146.7" font-size="29.5" text-anchor="end">10<tspan font-size="20.6" dy="-10.6" dx="-0.5">14</tspan></text>
<line x1="1459.8" y1="189.6" x2="1472.3" y2="189.6" stroke="#000" stroke-width="2.4"/>
<text x="1446.7" y="201.1" font-size="29.5" text-anchor="end">10<tspan font-size="20.6" dy="-10.6" dx="-0.5">10</tspan></text>
<line x1="1459.8" y1="244.0" x2="1472.3" y2="244.0" stroke="#000" stroke-width="2.4"/>
<text x="1446.6" y="255.5" font-size="29.5" text-anchor="end">10<tspan font-size="20.6" dy="-10.6" dx="-0.5">6</tspan></text>
<line x1="1459.8" y1="298.4" x2="1472.3" y2="298.4" stroke="#000" stroke-width="2.4"/>
<text x="1447.4" y="309.9" font-size="29.5" text-anchor="end">10<tspan font-size="20.6" dy="-10.6" dx="-0.5">2</tspan></text>
<line x1="1459.8" y1="374.8" x2="1472.3" y2="374.8" stroke="#000" stroke-width="2.4"/>
<text x="1447.4" y="386.3" font-size="29.5" text-anchor="end">−10<tspan font-size="20.6" dy="-10.6" dx="-0.5">2</tspan></text>
<line x1="1465.3" y1="312.0" x2="1472.3" y2="312.0" stroke="#000" stroke-width="1.9"/>
<line x1="1465.3" y1="284.79999999999995" x2="1472.3" y2="284.79999999999995" stroke="#000" stroke-width="1.9"/>
<line x1="1465.3" y1="271.2" x2="1472.3" y2="271.2" stroke="#000" stroke-width="1.9"/>
<line x1="1465.3" y1="257.59999999999997" x2="1472.3" y2="257.59999999999997" stroke="#000" stroke-width="1.9"/>
<line x1="1465.3" y1="230.39999999999998" x2="1472.3" y2="230.39999999999998" stroke="#000" stroke-width="1.9"/>
<line x1="1465.3" y1="216.79999999999998" x2="1472.3" y2="216.79999999999998" stroke="#000" stroke-width="1.9"/>
<line x1="1465.3" y1="203.2" x2="1472.3" y2="203.2" stroke="#000" stroke-width="1.9"/>
<line x1="1465.3" y1="176.0" x2="1472.3" y2="176.0" stroke="#000" stroke-width="1.9"/>
<line x1="1465.3" y1="162.39999999999998" x2="1472.3" y2="162.39999999999998" stroke="#000" stroke-width="1.9"/>
<line x1="1465.3" y1="148.79999999999998" x2="1472.3" y2="148.79999999999998" stroke="#000" stroke-width="1.9"/>
<line x1="1465.3" y1="121.6" x2="1472.3" y2="121.6" stroke="#000" stroke-width="1.9"/>
<line x1="1465.3" y1="107.99999999999997" x2="1472.3" y2="107.99999999999997" stroke="#000" stroke-width="1.9"/>
<line x1="1465.3" y1="329.3" x2="1472.3" y2="329.3" stroke="#000" stroke-width="1.9"/>
<line x1="1465.3" y1="336.7" x2="1472.3" y2="336.7" stroke="#000" stroke-width="1.9"/>
<line x1="1465.3" y1="344.8" x2="1472.3" y2="344.8" stroke="#000" stroke-width="1.9"/>
<line x1="1465.3" y1="361.0" x2="1472.3" y2="361.0" stroke="#000" stroke-width="1.9"/>
<line x1="1465.3" y1="388.1" x2="1472.3" y2="388.1" stroke="#000" stroke-width="1.9"/>
<line x1="1472.3" y1="388.1" x2="1472.3" y2="400.40000000000003" stroke="#000" stroke-width="2.4"/>
<line x1="1650.4" y1="388.1" x2="1650.4" y2="400.40000000000003" stroke="#000" stroke-width="2.4"/>
<text x="1556.75" y="123.90" font-size="23.5">3</text>
<text x="1570.95" y="115.70" font-size="16.5">0</text>
<text x="1585.65" y="123.90" font-size="23.5">−</text>
<text x="1608.95" y="123.90" font-size="23.5">2</text>
<text x="1623.05" y="115.70" font-size="16.5">0</text>
<text x="1638.15" y="123.90" font-size="23.5">−</text>
<text x="1660.95" y="123.90" font-size="23.5">1</text>
<text x="1675.55" y="115.70" font-size="16.5">3</text>
<text x="1368.5" y="100.1" font-size="38.5" font-weight="bold" style="font-family:'Liberation Sans',Arial,sans-serif">D</text>
<clipPath id="cp4"><rect x="147.2" y="433.2" width="296.9" height="293.50000000000006"/></clipPath>
<line x1="147.2" y1="667.3" x2="440.1" y2="667.3" stroke="#000" stroke-width="3.4"/>
<g clip-path="url(#cp4)"><polyline points="296.2,650.0 301.1,657.6 307.0,662.0 313.0,663.0" fill="none" stroke="#1f77b4" stroke-opacity="0.6" stroke-width="3.6" stroke-linejoin="round" stroke-linecap="butt"/>
<use href="#mb0" x="296.2" y="650.0"/>
<use href="#mb0" x="301.1" y="657.6"/>
<use href="#mb0" x="307.0" y="662.0"/>
<use href="#mb0" x="313.0" y="663.0"/>
<polyline points="190.0,667.5 195.9,667.5 201.9,667.6 207.8,667.6 213.8,667.6 219.7,667.6 225.7,667.7 231.6,667.7 237.6,667.7 243.5,667.7 249.4,667.8 255.4,667.8 261.3,667.8 267.3,667.9 273.2,667.9 279.2,667.9 285.1,667.9 291.0,668.0 297.0,668.0 302.9,668.3 308.9,668.9 314.8,669.6 320.8,670.2 326.7,670.8 332.7,671.4 338.6,672.0 344.5,672.7 351.0,668.0 355.0,662.0 360.1,656.8" fill="none" stroke="#17becf" stroke-opacity="0.6" stroke-width="3.6" stroke-linejoin="round" stroke-linecap="butt"/>
<use href="#mc1" x="190.0" y="667.5"/>
<use href="#mc1" x="195.9" y="667.5"/>
<use href="#mc1" x="201.9" y="667.6"/>
<use href="#mc1" x="207.8" y="667.6"/>
<use href="#mc1" x="213.8" y="667.6"/>
<use href="#mc1" x="219.7" y="667.6"/>
<use href="#mc1" x="225.7" y="667.7"/>
<use href="#mc1" x="231.6" y="667.7"/>
<use href="#mc1" x="237.6" y="667.7"/>
<use href="#mc1" x="243.5" y="667.7"/>
<use href="#mc1" x="249.4" y="667.8"/>
<use href="#mc1" x="255.4" y="667.8"/>
<use href="#mc1" x="261.3" y="667.8"/>
<use href="#mc1" x="267.3" y="667.9"/>
<use href="#mc1" x="273.2" y="667.9"/>
<use href="#mc1" x="279.2" y="667.9"/>
<use href="#mc1" x="285.1" y="667.9"/>
<use href="#mc1" x="291.0" y="668.0"/>
<use href="#mc1" x="297.0" y="668.0"/>
<use href="#mc1" x="302.9" y="668.3"/>
<use href="#mc1" x="308.9" y="668.9"/>
<use href="#mc1" x="314.8" y="669.6"/>
<use href="#mc1" x="320.8" y="670.2"/>
<use href="#mc1" x="326.7" y="670.8"/>
<use href="#mc1" x="332.7" y="671.4"/>
<use href="#mc1" x="338.6" y="672.0"/>
<use href="#mc1" x="344.5" y="672.7"/>
<use href="#mc1" x="351.0" y="668.0"/>
<use href="#mc1" x="355.0" y="662.0"/>
<use href="#mc1" x="360.1" y="656.8"/>
<polyline points="190.0,667.5 195.9,667.5 201.9,667.6 207.8,667.6 213.8,667.7 219.7,667.7 225.7,667.8 231.6,667.8 237.6,667.9 243.5,667.9 249.4,668.0 255.4,668.0 261.3,668.0 267.3,668.1 273.2,668.1 279.2,668.2 285.1,668.2 291.0,668.3 297.0,668.3 302.9,668.4 308.9,668.4 314.8,668.5 320.8,668.6 326.7,669.8 332.7,671.0 338.6,672.1 344.5,673.3 353.3,654.3 358.5,653.0 364.1,652.2 370.0,645.0 376.0,635.0 381.0,627.0 385.9,621.7 391.0,628.0 396.7,635.9 402.0,628.0 407.5,620.0 413.0,614.1" fill="none" stroke="#17becf" stroke-opacity="0.6" stroke-width="3.6" stroke-linejoin="round" stroke-linecap="butt"/>
<use href="#mc1" x="190.0" y="667.5"/>
<use href="#mc1" x="195.9" y="667.5"/>
<use href="#mc1" x="201.9" y="667.6"/>
<use href="#mc1" x="207.8" y="667.6"/>
<use href="#mc1" x="213.8" y="667.7"/>
<use href="#mc1" x="219.7" y="667.7"/>
<use href="#mc1" x="225.7" y="667.8"/>
<use href="#mc1" x="231.6" y="667.8"/>
<use href="#mc1" x="237.6" y="667.9"/>
<use href="#mc1" x="243.5" y="667.9"/>
<use href="#mc1" x="249.4" y="668.0"/>
<use href="#mc1" x="255.4" y="668.0"/>
<use href="#mc1" x="261.3" y="668.0"/>
<use href="#mc1" x="267.3" y="668.1"/>
<use href="#mc1" x="273.2" y="668.1"/>
<use href="#mc1" x="279.2" y="668.2"/>
<use href="#mc1" x="285.1" y="668.2"/>
<use href="#mc1" x="291.0" y="668.3"/>
<use href="#mc1" x="297.0" y="668.3"/>
<use href="#mc1" x="302.9" y="668.4"/>
<use href="#mc1" x="308.9" y="668.4"/>
<use href="#mc1" x="314.8" y="668.5"/>
<use href="#mc1" x="320.8" y="668.6"/>
<use href="#mc1" x="326.7" y="669.8"/>
<use href="#mc1" x="332.7" y="671.0"/>
<use href="#mc1" x="338.6" y="672.1"/>
<use href="#mc1" x="344.5" y="673.3"/>
<use href="#mc1" x="353.3" y="654.3"/>
<use href="#mc1" x="358.5" y="653.0"/>
<use href="#mc1" x="364.1" y="652.2"/>
<use href="#mc1" x="370.0" y="645.0"/>
<use href="#mc1" x="376.0" y="635.0"/>
<use href="#mc1" x="381.0" y="627.0"/>
<use href="#mc1" x="385.9" y="621.7"/>
<use href="#mc1" x="391.0" y="628.0"/>
<use href="#mc1" x="396.7" y="635.9"/>
<use href="#mc1" x="402.0" y="628.0"/>
<use href="#mc1" x="407.5" y="620.0"/>
<use href="#mc1" x="413.0" y="614.1"/>
<polyline points="262.0,668.0 268.0,670.0 277.2,673.9 284.0,670.0 290.0,666.0 296.2,663.9 303.0,659.0 310.9,654.3 317.4,646.7 323.9,642.4 332.6,642.4 339.1,642.4 345.7,639.1 350.0,634.8 355.4,632.6" fill="none" stroke="#2ca02c" stroke-opacity="0.6" stroke-width="3.6" stroke-linejoin="round" stroke-linecap="butt"/>
<use href="#mg3" x="262.0" y="668.0"/>
<use href="#mg3" x="268.0" y="670.0"/>
<use href="#mg3" x="277.2" y="673.9"/>
<use href="#mg3" x="284.0" y="670.0"/>
<use href="#mg3" x="290.0" y="666.0"/>
<use href="#mg3" x="296.2" y="663.9"/>
<use href="#mg3" x="303.0" y="659.0"/>
<use href="#mg3" x="310.9" y="654.3"/>
<use href="#mg3" x="317.4" y="646.7"/>
<use href="#mg3" x="323.9" y="642.4"/>
<use href="#mg3" x="332.6" y="642.4"/>
<use href="#mg3" x="339.1" y="642.4"/>
<use href="#mg3" x="345.7" y="639.1"/>
<use href="#mg3" x="350.0" y="634.8"/>
<use href="#mg3" x="355.4" y="632.6"/>
<polyline points="312.2,615.2 317.5,615.2 324.6,615.2 331.0,600.7 337.0,607.1 343.4,608.8 349.5,601.7 355.5,578.6 361.2,587.5 368.0,592.9 372.6,570.8 378.6,562.7 385.0,564.4 390.3,468.5 397.4,468.5" fill="none" stroke="#2ca02c" stroke-opacity="0.6" stroke-width="3.6" stroke-linejoin="round" stroke-linecap="butt"/>
<use href="#mg3" x="312.2" y="615.2"/>
<use href="#mg3" x="317.5" y="615.2"/>
<use href="#mg3" x="324.6" y="615.2"/>
<use href="#mg3" x="331.0" y="600.7"/>
<use href="#mg3" x="337.0" y="607.1"/>
<use href="#mg3" x="343.4" y="608.8"/>
<use href="#mg3" x="349.5" y="601.7"/>
<use href="#mg3" x="355.5" y="578.6"/>
<use href="#mg3" x="361.2" y="587.5"/>
<use href="#mg3" x="368.0" y="592.9"/>
<use href="#mg3" x="372.6" y="570.8"/>
<use href="#mg3" x="378.6" y="562.7"/>
<use href="#mg3" x="385.0" y="564.4"/>
<use href="#mg3" x="390.3" y="468.5"/>
<use href="#mg3" x="397.4" y="468.5"/>
<polyline points="282.0,667.5 287.9,664.1 293.9,660.8 299.8,658.6 305.8,657.3 311.7,656.1 317.7,654.9 323.6,653.8 329.6,651.9 335.5,649.6 341.4,646.7 347.4,643.7 353.3,639.6 359.3,635.4 365.2,630.7 371.2,626.9 377.1,625.7 383.0,623.4 389.0,619.9 394.9,616.3 400.9,612.8 406.8,610.2 413.4,585.8" fill="none" stroke="#d62728" stroke-opacity="0.6" stroke-width="3.6" stroke-linejoin="round" stroke-linecap="butt"/>
<use href="#mr2" x="282.0" y="667.5"/>
<use href="#mr2" x="287.9" y="664.1"/>
<use href="#mr2" x="293.9" y="660.8"/>
<use href="#mr2" x="299.8" y="658.6"/>
<use href="#mr2" x="305.8" y="657.3"/>
<use href="#mr2" x="311.7" y="656.1"/>
<use href="#mr2" x="317.7" y="654.9"/>
<use href="#mr2" x="323.6" y="653.8"/>
<use href="#mr2" x="329.6" y="651.9"/>
<use href="#mr2" x="335.5" y="649.6"/>
<use href="#mr2" x="341.4" y="646.7"/>
<use href="#mr2" x="347.4" y="643.7"/>
<use href="#mr2" x="353.3" y="639.6"/>
<use href="#mr2" x="359.3" y="635.4"/>
<use href="#mr2" x="365.2" y="630.7"/>
<use href="#mr2" x="371.2" y="626.9"/>
<use href="#mr2" x="377.1" y="625.7"/>
<use href="#mr2" x="383.0" y="623.4"/>
<use href="#mr2" x="389.0" y="619.9"/>
<use href="#mr2" x="394.9" y="616.3"/>
<use href="#mr2" x="400.9" y="612.8"/>
<use href="#mr2" x="406.8" y="610.2"/>
<use href="#mr2" x="413.4" y="585.8"/>
<polyline points="290.0,668.5 295.9,668.6 301.9,668.6 307.8,668.7 313.8,668.8 319.7,668.9 325.7,668.9 331.6,669.0 337.6,669.9 343.5,659.9 349.4,654.3 355.4,648.8 361.3,645.2 367.3,644.0 373.2,640.6 379.2,635.8 385.1,632.9 391.0,630.6 397.0,628.2 402.9,626.4 408.9,622.5" fill="none" stroke="#d62728" stroke-opacity="0.6" stroke-width="3.6" stroke-linejoin="round" stroke-linecap="butt"/>
<use href="#mr2" x="290.0" y="668.5"/>
<use href="#mr2" x="295.9" y="668.6"/>
<use href="#mr2" x="301.9" y="668.6"/>
<use href="#mr2" x="307.8" y="668.7"/>
<use href="#mr2" x="313.8" y="668.8"/>
<use href="#mr2" x="319.7" y="668.9"/>
<use href="#mr2" x="325.7" y="668.9"/>
<use href="#mr2" x="331.6" y="669.0"/>
<use href="#mr2" x="337.6" y="669.9"/>
<use href="#mr2" x="343.5" y="659.9"/>
<use href="#mr2" x="349.4" y="654.3"/>
<use href="#mr2" x="355.4" y="648.8"/>
<use href="#mr2" x="361.3" y="645.2"/>
<use href="#mr2" x="367.3" y="644.0"/>
<use href="#mr2" x="373.2" y="640.6"/>
<use href="#mr2" x="379.2" y="635.8"/>
<use href="#mr2" x="385.1" y="632.9"/>
<use href="#mr2" x="391.0" y="630.6"/>
<use href="#mr2" x="397.0" y="628.2"/>
<use href="#mr2" x="402.9" y="626.4"/>
<use href="#mr2" x="408.9" y="622.5"/>
<polyline points="190.0,667.0 195.9,667.0 201.9,667.0 207.8,667.0 213.8,667.0 219.7,667.0 225.7,667.0 231.6,667.0 237.6,667.0 243.5,667.0 249.4,667.0 255.4,667.0 261.3,667.0 267.3,667.0 273.2,667.0 279.2,667.0 285.1,667.0 291.0,667.0 297.0,667.0 302.9,666.9 308.9,666.7 314.8,666.6 320.8,666.4 326.7,666.2 332.7,666.1 338.6,665.9 344.5,665.7 350.5,665.5 356.4,665.4 362.4,665.2 368.3,665.0 372.8,650.0" fill="none" stroke="#9467bd" stroke-opacity="0.6" stroke-width="3.6" stroke-linejoin="round" stroke-linecap="butt"/>
<use href="#mp4" x="190.0" y="667.0"/>
<use href="#mp4" x="195.9" y="667.0"/>
<use href="#mp4" x="201.9" y="667.0"/>
<use href="#mp4" x="207.8" y="667.0"/>
<use href="#mp4" x="213.8" y="667.0"/>
<use href="#mp4" x="219.7" y="667.0"/>
<use href="#mp4" x="225.7" y="667.0"/>
<use href="#mp4" x="231.6" y="667.0"/>
<use href="#mp4" x="237.6" y="667.0"/>
<use href="#mp4" x="243.5" y="667.0"/>
<use href="#mp4" x="249.4" y="667.0"/>
<use href="#mp4" x="255.4" y="667.0"/>
<use href="#mp4" x="261.3" y="667.0"/>
<use href="#mp4" x="267.3" y="667.0"/>
<use href="#mp4" x="273.2" y="667.0"/>
<use href="#mp4" x="279.2" y="667.0"/>
<use href="#mp4" x="285.1" y="667.0"/>
<use href="#mp4" x="291.0" y="667.0"/>
<use href="#mp4" x="297.0" y="667.0"/>
<use href="#mp4" x="302.9" y="666.9"/>
<use href="#mp4" x="308.9" y="666.7"/>
<use href="#mp4" x="314.8" y="666.6"/>
<use href="#mp4" x="320.8" y="666.4"/>
<use href="#mp4" x="326.7" y="666.2"/>
<use href="#mp4" x="332.7" y="666.1"/>
<use href="#mp4" x="338.6" y="665.9"/>
<use href="#mp4" x="344.5" y="665.7"/>
<use href="#mp4" x="350.5" y="665.5"/>
<use href="#mp4" x="356.4" y="665.4"/>
<use href="#mp4" x="362.4" y="665.2"/>
<use href="#mp4" x="368.3" y="665.0"/>
<use href="#mp4" x="372.8" y="650.0"/>
<polyline points="190.0,667.0 195.9,667.0 201.9,666.9 207.8,666.9 213.8,666.9 219.7,666.8 225.7,666.8 231.6,666.8 237.6,666.7 243.5,666.7 249.4,666.7 255.4,666.6 261.3,666.6 267.3,666.6 273.2,666.5 279.2,666.5 285.1,666.5 291.0,666.4 297.0,666.4 302.9,666.4 308.9,666.3 314.8,666.3 320.8,666.3 326.7,666.2 332.7,666.2 338.6,666.2 344.5,666.1 350.5,666.1 356.4,666.1 362.4,666.0" fill="none" stroke="#9467bd" stroke-opacity="0.6" stroke-width="3.6" stroke-linejoin="round" stroke-linecap="butt"/>
<use href="#mp4" x="190.0" y="667.0"/>
<use href="#mp4" x="195.9" y="667.0"/>
<use href="#mp4" x="201.9" y="666.9"/>
<use href="#mp4" x="207.8" y="666.9"/>
<use href="#mp4" x="213.8" y="666.9"/>
<use href="#mp4" x="219.7" y="666.8"/>
<use href="#mp4" x="225.7" y="666.8"/>
<use href="#mp4" x="231.6" y="666.8"/>
<use href="#mp4" x="237.6" y="666.7"/>
<use href="#mp4" x="243.5" y="666.7"/>
<use href="#mp4" x="249.4" y="666.7"/>
<use href="#mp4" x="255.4" y="666.6"/>
<use href="#mp4" x="261.3" y="666.6"/>
<use href="#mp4" x="267.3" y="666.6"/>
<use href="#mp4" x="273.2" y="666.5"/>
<use href="#mp4" x="279.2" y="666.5"/>
<use href="#mp4" x="285.1" y="666.5"/>
<use href="#mp4" x="291.0" y="666.4"/>
<use href="#mp4" x="297.0" y="666.4"/>
<use href="#mp4" x="302.9" y="666.4"/>
<use href="#mp4" x="308.9" y="666.3"/>
<use href="#mp4" x="314.8" y="666.3"/>
<use href="#mp4" x="320.8" y="666.3"/>
<use href="#mp4" x="326.7" y="666.2"/>
<use href="#mp4" x="332.7" y="666.2"/>
<use href="#mp4" x="338.6" y="666.2"/>
<use href="#mp4" x="344.5" y="666.1"/>
<use href="#mp4" x="350.5" y="666.1"/>
<use href="#mp4" x="356.4" y="666.1"/>
<use href="#mp4" x="362.4" y="666.0"/></g>
<rect x="147.2" y="433.2" width="296.9" height="293.50000000000006" fill="none" stroke="#000" stroke-width="3"/>
<line x1="134.7" y1="496.5" x2="147.2" y2="496.5" stroke="#000" stroke-width="2.4"/>
<text x="121.6" y="508.0" font-size="29.5" text-anchor="end">10<tspan font-size="20.6" dy="-10.6" dx="-0.5">10</tspan></text>
<line x1="134.7" y1="559.5" x2="147.2" y2="559.5" stroke="#000" stroke-width="2.4"/>
<text x="121.5" y="571.0" font-size="29.5" text-anchor="end">10<tspan font-size="20.6" dy="-10.6" dx="-0.5">6</tspan></text>
<line x1="134.7" y1="622.4" x2="147.2" y2="622.4" stroke="#000" stroke-width="2.4"/>
<text x="122.3" y="633.9" font-size="29.5" text-anchor="end">10<tspan font-size="20.6" dy="-10.6" dx="-0.5">2</tspan></text>
<line x1="134.7" y1="711.3" x2="147.2" y2="711.3" stroke="#000" stroke-width="2.4"/>
<text x="122.3" y="722.8" font-size="29.5" text-anchor="end">−10<tspan font-size="20.6" dy="-10.6" dx="-0.5">2</tspan></text>
<line x1="140.2" y1="638.14" x2="147.2" y2="638.14" stroke="#000" stroke-width="1.9"/>
<line x1="140.2" y1="606.66" x2="147.2" y2="606.66" stroke="#000" stroke-width="1.9"/>
<line x1="140.2" y1="590.92" x2="147.2" y2="590.92" stroke="#000" stroke-width="1.9"/>
<line x1="140.2" y1="575.18" x2="147.2" y2="575.18" stroke="#000" stroke-width="1.9"/>
<line x1="140.2" y1="543.6999999999999" x2="147.2" y2="543.6999999999999" stroke="#000" stroke-width="1.9"/>
<line x1="140.2" y1="527.96" x2="147.2" y2="527.96" stroke="#000" stroke-width="1.9"/>
<line x1="140.2" y1="512.22" x2="147.2" y2="512.22" stroke="#000" stroke-width="1.9"/>
<line x1="140.2" y1="480.74" x2="147.2" y2="480.74" stroke="#000" stroke-width="1.9"/>
<line x1="140.2" y1="465.0" x2="147.2" y2="465.0" stroke="#000" stroke-width="1.9"/>
<line x1="140.2" y1="449.26" x2="147.2" y2="449.26" stroke="#000" stroke-width="1.9"/>
<line x1="140.2" y1="433.52" x2="147.2" y2="433.52" stroke="#000" stroke-width="1.9"/>
<line x1="140.2" y1="658.9" x2="147.2" y2="658.9" stroke="#000" stroke-width="1.9"/>
<line x1="140.2" y1="667.0" x2="147.2" y2="667.0" stroke="#000" stroke-width="1.9"/>
<line x1="140.2" y1="675.9" x2="147.2" y2="675.9" stroke="#000" stroke-width="1.9"/>
<line x1="140.2" y1="695.9" x2="147.2" y2="695.9" stroke="#000" stroke-width="1.9"/>
<line x1="140.2" y1="727.0" x2="147.2" y2="727.0" stroke="#000" stroke-width="1.9"/>
<line x1="147.2" y1="726.7" x2="147.2" y2="739.0" stroke="#000" stroke-width="2.4"/>
<text x="147.8" y="775.9" font-size="29.5" text-anchor="middle">10<tspan font-size="20.6" dy="-10.2">−5</tspan></text>
<line x1="325.3" y1="726.7" x2="325.3" y2="739.0" stroke="#000" stroke-width="2.4"/>
<text x="325.9" y="775.9" font-size="29.5" text-anchor="middle">10<tspan font-size="20.6" dy="-10.2">−2</tspan></text>
<text x="295.6" y="820.2" font-size="29.5" text-anchor="middle" font-weight="normal" >p</text>
<text x="230.75" y="463.20" font-size="23.5">3</text>
<text x="244.95" y="454.20" font-size="16.5">0</text>
<text x="259.65" y="463.20" font-size="23.5">−</text>
<text x="282.95" y="463.20" font-size="23.5">2</text>
<text x="297.05" y="454.20" font-size="16.5">1</text>
<text x="312.15" y="463.20" font-size="23.5">−</text>
<text x="334.95" y="463.20" font-size="23.5">1</text>
<text x="349.55" y="454.20" font-size="16.5">0</text>
<text x="10.5" y="425.6" font-size="38.5" font-weight="bold" style="font-family:'Liberation Sans',Arial,sans-serif">E</text>
<clipPath id="cp5"><rect x="589.0" y="433.2" width="296.9" height="293.50000000000006"/></clipPath>
<line x1="589.0" y1="667.3" x2="881.9" y2="667.3" stroke="#000" stroke-width="3.4"/>
<g clip-path="url(#cp5)"><polyline points="741.8,678.1 747.4,677.0 754.0,674.0 760.0,672.0 766.6,670.0 773.0,668.0 779.0,667.0 785.0,666.0 791.0,665.0 797.0,664.5 802.1,663.9 808.0,662.0 814.0,660.0 820.0,658.0 826.0,656.0 831.0,655.0 837.7,653.2" fill="none" stroke="#1f77b4" stroke-opacity="0.6" stroke-width="3.6" stroke-linejoin="round" stroke-linecap="butt"/>
<use href="#mb0" x="741.8" y="678.1"/>
<use href="#mb0" x="747.4" y="677.0"/>
<use href="#mb0" x="754.0" y="674.0"/>
<use href="#mb0" x="760.0" y="672.0"/>
<use href="#mb0" x="766.6" y="670.0"/>
<use href="#mb0" x="773.0" y="668.0"/>
<use href="#mb0" x="779.0" y="667.0"/>
<use href="#mb0" x="785.0" y="666.0"/>
<use href="#mb0" x="791.0" y="665.0"/>
<use href="#mb0" x="797.0" y="664.5"/>
<use href="#mb0" x="802.1" y="663.9"/>
<use href="#mb0" x="808.0" y="662.0"/>
<use href="#mb0" x="814.0" y="660.0"/>
<use href="#mb0" x="820.0" y="658.0"/>
<use href="#mb0" x="826.0" y="656.0"/>
<use href="#mb0" x="831.0" y="655.0"/>
<use href="#mb0" x="837.7" y="653.2"/>
<polyline points="640.8,680.6 646.7,677.4 652.7,674.3 658.6,671.1 664.6,667.9 670.5,665.6 676.5,663.7 682.4,661.7 688.4,664.3 694.3,665.3 700.2,666.2 706.2,667.2 712.1,668.0 718.1,667.8 724.0,667.5 730.0,667.3 735.9,667.1 741.8,670.9 747.8,670.1 753.7,668.2 759.7,666.4 765.6,668.4 771.6,670.7 777.5,673.5 783.5,677.2 789.4,680.8 795.3,691.8 801.3,695.0 807.2,686.4 813.2,683.9 819.1,689.1 825.1,676.4 831.0,670.0 837.0,668.3 842.9,665.2 848.8,648.5" fill="none" stroke="#17becf" stroke-opacity="0.6" stroke-width="3.6" stroke-linejoin="round" stroke-linecap="butt"/>
<use href="#mc1" x="640.8" y="680.6"/>
<use href="#mc1" x="646.7" y="677.4"/>
<use href="#mc1" x="652.7" y="674.3"/>
<use href="#mc1" x="658.6" y="671.1"/>
<use href="#mc1" x="664.6" y="667.9"/>
<use href="#mc1" x="670.5" y="665.6"/>
<use href="#mc1" x="676.5" y="663.7"/>
<use href="#mc1" x="682.4" y="661.7"/>
<use href="#mc1" x="688.4" y="664.3"/>
<use href="#mc1" x="694.3" y="665.3"/>
<use href="#mc1" x="700.2" y="666.2"/>
<use href="#mc1" x="706.2" y="667.2"/>
<use href="#mc1" x="712.1" y="668.0"/>
<use href="#mc1" x="718.1" y="667.8"/>
<use href="#mc1" x="724.0" y="667.5"/>
<use href="#mc1" x="730.0" y="667.3"/>
<use href="#mc1" x="735.9" y="667.1"/>
<use href="#mc1" x="741.8" y="670.9"/>
<use href="#mc1" x="747.8" y="670.1"/>
<use href="#mc1" x="753.7" y="668.2"/>
<use href="#mc1" x="759.7" y="666.4"/>
<use href="#mc1" x="765.6" y="668.4"/>
<use href="#mc1" x="771.6" y="670.7"/>
<use href="#mc1" x="777.5" y="673.5"/>
<use href="#mc1" x="783.5" y="677.2"/>
<use href="#mc1" x="789.4" y="680.8"/>
<use href="#mc1" x="795.3" y="691.8"/>
<use href="#mc1" x="801.3" y="695.0"/>
<use href="#mc1" x="807.2" y="686.4"/>
<use href="#mc1" x="813.2" y="683.9"/>
<use href="#mc1" x="819.1" y="689.1"/>
<use href="#mc1" x="825.1" y="676.4"/>
<use href="#mc1" x="831.0" y="670.0"/>
<use href="#mc1" x="837.0" y="668.3"/>
<use href="#mc1" x="842.9" y="665.2"/>
<use href="#mc1" x="848.8" y="648.5"/>
<polyline points="640.8,692.4 646.7,689.7 652.7,687.0 658.6,685.6 664.6,685.0 670.5,684.5 676.5,683.9 682.4,683.4 688.4,682.9 694.3,682.5 700.2,682.0 706.2,682.6 712.1,683.2 718.1,683.8 724.0,684.9 730.0,686.2 735.9,687.5 741.8,688.8 747.8,689.9 753.7,688.9 759.7,687.9 765.6,686.8 771.6,685.8 777.5,685.3 783.5,685.9 789.4,686.5 795.3,687.9 801.3,689.8 807.2,691.6 813.2,692.6 819.1,690.9 825.1,683.4 831.0,667.7 837.0,665.3 842.9,667.7" fill="none" stroke="#17becf" stroke-opacity="0.6" stroke-width="3.6" stroke-linejoin="round" stroke-linecap="butt"/>
<use href="#mc1" x="640.8" y="692.4"/>
<use href="#mc1" x="646.7" y="689.7"/>
<use href="#mc1" x="652.7" y="687.0"/>
<use href="#mc1" x="658.6" y="685.6"/>
<use href="#mc1" x="664.6" y="685.0"/>
<use href="#mc1" x="670.5" y="684.5"/>
<use href="#mc1" x="676.5" y="683.9"/>
<use href="#mc1" x="682.4" y="683.4"/>
<use href="#mc1" x="688.4" y="682.9"/>
<use href="#mc1" x="694.3" y="682.5"/>
<use href="#mc1" x="700.2" y="682.0"/>
<use href="#mc1" x="706.2" y="682.6"/>
<use href="#mc1" x="712.1" y="683.2"/>
<use href="#mc1" x="718.1" y="683.8"/>
<use href="#mc1" x="724.0" y="684.9"/>
<use href="#mc1" x="730.0" y="686.2"/>
<use href="#mc1" x="735.9" y="687.5"/>
<use href="#mc1" x="741.8" y="688.8"/>
<use href="#mc1" x="747.8" y="689.9"/>
<use href="#mc1" x="753.7" y="688.9"/>
<use href="#mc1" x="759.7" y="687.9"/>
<use href="#mc1" x="765.6" y="686.8"/>
<use href="#mc1" x="771.6" y="685.8"/>
<use href="#mc1" x="777.5" y="685.3"/>
<use href="#mc1" x="783.5" y="685.9"/>
<use href="#mc1" x="789.4" y="686.5"/>
<use href="#mc1" x="795.3" y="687.9"/>
<use href="#mc1" x="801.3" y="689.8"/>
<use href="#mc1" x="807.2" y="691.6"/>
<use href="#mc1" x="813.2" y="692.6"/>
<use href="#mc1" x="819.1" y="690.9"/>
<use href="#mc1" x="825.1" y="683.4"/>
<use href="#mc1" x="831.0" y="667.7"/>
<use href="#mc1" x="837.0" y="665.3"/>
<use href="#mc1" x="842.9" y="667.7"/>
<polyline points="714.0,683.3 719.9,682.4 725.9,681.6 731.8,680.8 737.8,680.0 743.7,679.2 749.7,677.4 755.6,675.5 761.6,672.3 767.5,670.9 773.4,669.4 779.4,668.1 785.3,666.9 791.3,665.5 797.2,663.3 803.2,661.1 809.1,658.9 819.6,639.6 825.9,639.6 832.2,627.1 838.5,627.9" fill="none" stroke="#2ca02c" stroke-opacity="0.6" stroke-width="3.6" stroke-linejoin="round" stroke-linecap="butt"/>
<use href="#mg3" x="714.0" y="683.3"/>
<use href="#mg3" x="719.9" y="682.4"/>
<use href="#mg3" x="725.9" y="681.6"/>
<use href="#mg3" x="731.8" y="680.8"/>
<use href="#mg3" x="737.8" y="680.0"/>
<use href="#mg3" x="743.7" y="679.2"/>
<use href="#mg3" x="749.7" y="677.4"/>
<use href="#mg3" x="755.6" y="675.5"/>
<use href="#mg3" x="761.6" y="672.3"/>
<use href="#mg3" x="767.5" y="670.9"/>
<use href="#mg3" x="773.4" y="669.4"/>
<use href="#mg3" x="779.4" y="668.1"/>
<use href="#mg3" x="785.3" y="666.9"/>
<use href="#mg3" x="791.3" y="665.5"/>
<use href="#mg3" x="797.2" y="663.3"/>
<use href="#mg3" x="803.2" y="661.1"/>
<use href="#mg3" x="809.1" y="658.9"/>
<use href="#mg3" x="819.6" y="639.6"/>
<use href="#mg3" x="825.9" y="639.6"/>
<use href="#mg3" x="832.2" y="627.1"/>
<use href="#mg3" x="838.5" y="627.9"/>
<polyline points="726.6,679.7 732.5,678.8 738.5,677.9 744.4,680.9 750.4,682.4 756.3,682.4 762.3,681.9 768.2,679.8 774.2,668.2 780.1,662.3 786.0,661.1 792.0,659.6 797.9,655.1 803.9,650.6 809.8,647.2 815.8,644.1 821.7,643.0 827.6,642.3 833.6,641.1 839.5,638.7 845.5,633.8 851.4,625.5 857.4,619.5 868.3,591.0 876.1,593.3" fill="none" stroke="#d62728" stroke-opacity="0.6" stroke-width="3.6" stroke-linejoin="round" stroke-linecap="butt"/>
<use href="#mr2" x="726.6" y="679.7"/>
<use href="#mr2" x="732.5" y="678.8"/>
<use href="#mr2" x="738.5" y="677.9"/>
<use href="#mr2" x="744.4" y="680.9"/>
<use href="#mr2" x="750.4" y="682.4"/>
<use href="#mr2" x="756.3" y="682.4"/>
<use href="#mr2" x="762.3" y="681.9"/>
<use href="#mr2" x="768.2" y="679.8"/>
<use href="#mr2" x="774.2" y="668.2"/>
<use href="#mr2" x="780.1" y="662.3"/>
<use href="#mr2" x="786.0" y="661.1"/>
<use href="#mr2" x="792.0" y="659.6"/>
<use href="#mr2" x="797.9" y="655.1"/>
<use href="#mr2" x="803.9" y="650.6"/>
<use href="#mr2" x="809.8" y="647.2"/>
<use href="#mr2" x="815.8" y="644.1"/>
<use href="#mr2" x="821.7" y="643.0"/>
<use href="#mr2" x="827.6" y="642.3"/>
<use href="#mr2" x="833.6" y="641.1"/>
<use href="#mr2" x="839.5" y="638.7"/>
<use href="#mr2" x="845.5" y="633.8"/>
<use href="#mr2" x="851.4" y="625.5"/>
<use href="#mr2" x="857.4" y="619.5"/>
<use href="#mr2" x="868.3" y="591.0"/>
<use href="#mr2" x="876.1" y="593.3"/>
<polyline points="740.0,683.0 745.9,683.0 751.9,683.0 757.8,683.0 763.8,683.0 769.7,677.8 775.7,668.0 781.6,667.3 787.6,666.7 793.5,666.1 799.4,665.5 805.4,664.9 811.3,664.3 817.3,663.7 823.2,662.8 829.2,657.7 835.1,652.1 841.0,645.3 847.0,638.4 852.9,631.5 858.9,627.4" fill="none" stroke="#d62728" stroke-opacity="0.6" stroke-width="3.6" stroke-linejoin="round" stroke-linecap="butt"/>
<use href="#mr2" x="740.0" y="683.0"/>
<use href="#mr2" x="745.9" y="683.0"/>
<use href="#mr2" x="751.9" y="683.0"/>
<use href="#mr2" x="757.8" y="683.0"/>
<use href="#mr2" x="763.8" y="683.0"/>
<use href="#mr2" x="769.7" y="677.8"/>
<use href="#mr2" x="775.7" y="668.0"/>
<use href="#mr2" x="781.6" y="667.3"/>
<use href="#mr2" x="787.6" y="666.7"/>
<use href="#mr2" x="793.5" y="666.1"/>
<use href="#mr2" x="799.4" y="665.5"/>
<use href="#mr2" x="805.4" y="664.9"/>
<use href="#mr2" x="811.3" y="664.3"/>
<use href="#mr2" x="817.3" y="663.7"/>
<use href="#mr2" x="823.2" y="662.8"/>
<use href="#mr2" x="829.2" y="657.7"/>
<use href="#mr2" x="835.1" y="652.1"/>
<use href="#mr2" x="841.0" y="645.3"/>
<use href="#mr2" x="847.0" y="638.4"/>
<use href="#mr2" x="852.9" y="631.5"/>
<use href="#mr2" x="858.9" y="627.4"/>
<polyline points="644.4,694.2 650.3,697.6 656.3,700.9 662.2,702.4 668.2,702.7 674.1,701.2 680.1,699.7 686.0,698.5 692.0,697.9 697.9,697.3 703.8,696.7 709.8,696.2 715.7,696.0 721.7,696.0 727.6,696.0 733.6,697.1 739.5,698.7 745.4,699.9 751.4,700.0 757.3,697.5 763.3,695.1 769.2,693.8 775.2,693.2 781.1,692.6 791.4,691.0 799.2,689.8 807.1,689.8" fill="none" stroke="#9467bd" stroke-opacity="0.6" stroke-width="3.6" stroke-linejoin="round" stroke-linecap="butt"/>
<use href="#mp4" x="644.4" y="694.2"/>
<use href="#mp4" x="650.3" y="697.6"/>
<use href="#mp4" x="656.3" y="700.9"/>
<use href="#mp4" x="662.2" y="702.4"/>
<use href="#mp4" x="668.2" y="702.7"/>
<use href="#mp4" x="674.1" y="701.2"/>
<use href="#mp4" x="680.1" y="699.7"/>
<use href="#mp4" x="686.0" y="698.5"/>
<use href="#mp4" x="692.0" y="697.9"/>
<use href="#mp4" x="697.9" y="697.3"/>
<use href="#mp4" x="703.8" y="696.7"/>
<use href="#mp4" x="709.8" y="696.2"/>
<use href="#mp4" x="715.7" y="696.0"/>
<use href="#mp4" x="721.7" y="696.0"/>
<use href="#mp4" x="727.6" y="696.0"/>
<use href="#mp4" x="733.6" y="697.1"/>
<use href="#mp4" x="739.5" y="698.7"/>
<use href="#mp4" x="745.4" y="699.9"/>
<use href="#mp4" x="751.4" y="700.0"/>
<use href="#mp4" x="757.3" y="697.5"/>
<use href="#mp4" x="763.3" y="695.1"/>
<use href="#mp4" x="769.2" y="693.8"/>
<use href="#mp4" x="775.2" y="693.2"/>
<use href="#mp4" x="781.1" y="692.6"/>
<use href="#mp4" x="791.4" y="691.0"/>
<use href="#mp4" x="799.2" y="689.8"/>
<use href="#mp4" x="807.1" y="689.8"/>
<polyline points="644.4,692.4 650.3,690.4 656.3,688.4 662.2,686.4 668.2,685.1 674.1,685.1 680.1,685.1 686.0,685.1 692.0,685.1 697.9,685.6 703.8,686.2 709.8,686.8 715.7,687.4 721.7,688.0 727.6,688.6 733.6,689.0 739.5,689.4 745.4,689.7 751.4,689.4 757.3,687.1 763.3,684.7 769.2,681.4 775.2,677.6 781.1,676.2 787.1,675.0 793.0,674.5 798.9,676.0 804.9,678.1 810.8,683.2" fill="none" stroke="#9467bd" stroke-opacity="0.6" stroke-width="3.6" stroke-linejoin="round" stroke-linecap="butt"/>
<use href="#mp4" x="644.4" y="692.4"/>
<use href="#mp4" x="650.3" y="690.4"/>
<use href="#mp4" x="656.3" y="688.4"/>
<use href="#mp4" x="662.2" y="686.4"/>
<use href="#mp4" x="668.2" y="685.1"/>
<use href="#mp4" x="674.1" y="685.1"/>
<use href="#mp4" x="680.1" y="685.1"/>
<use href="#mp4" x="686.0" y="685.1"/>
<use href="#mp4" x="692.0" y="685.1"/>
<use href="#mp4" x="697.9" y="685.6"/>
<use href="#mp4" x="703.8" y="686.2"/>
<use href="#mp4" x="709.8" y="686.8"/>
<use href="#mp4" x="715.7" y="687.4"/>
<use href="#mp4" x="721.7" y="688.0"/>
<use href="#mp4" x="727.6" y="688.6"/>
<use href="#mp4" x="733.6" y="689.0"/>
<use href="#mp4" x="739.5" y="689.4"/>
<use href="#mp4" x="745.4" y="689.7"/>
<use href="#mp4" x="751.4" y="689.4"/>
<use href="#mp4" x="757.3" y="687.1"/>
<use href="#mp4" x="763.3" y="684.7"/>
<use href="#mp4" x="769.2" y="681.4"/>
<use href="#mp4" x="775.2" y="677.6"/>
<use href="#mp4" x="781.1" y="676.2"/>
<use href="#mp4" x="787.1" y="675.0"/>
<use href="#mp4" x="793.0" y="674.5"/>
<use href="#mp4" x="798.9" y="676.0"/>
<use href="#mp4" x="804.9" y="678.1"/>
<use href="#mp4" x="810.8" y="683.2"/></g>
<rect x="589.0" y="433.2" width="296.9" height="293.50000000000006" fill="none" stroke="#000" stroke-width="3"/>
<line x1="576.5" y1="496.5" x2="589.0" y2="496.5" stroke="#000" stroke-width="2.4"/>
<text x="563.4" y="508.0" font-size="29.5" text-anchor="end">10<tspan font-size="20.6" dy="-10.6" dx="-0.5">10</tspan></text>
<line x1="576.5" y1="559.5" x2="589.0" y2="559.5" stroke="#000" stroke-width="2.4"/>
<text x="563.3" y="571.0" font-size="29.5" text-anchor="end">10<tspan font-size="20.6" dy="-10.6" dx="-0.5">6</tspan></text>
<line x1="576.5" y1="622.4" x2="589.0" y2="622.4" stroke="#000" stroke-width="2.4"/>
<text x="564.1" y="633.9" font-size="29.5" text-anchor="end">10<tspan font-size="20.6" dy="-10.6" dx="-0.5">2</tspan></text>
<line x1="576.5" y1="711.3" x2="589.0" y2="711.3" stroke="#000" stroke-width="2.4"/>
<text x="564.1" y="722.8" font-size="29.5" text-anchor="end">−10<tspan font-size="20.6" dy="-10.6" dx="-0.5">2</tspan></text>
<line x1="582.0" y1="638.14" x2="589.0" y2="638.14" stroke="#000" stroke-width="1.9"/>
<line x1="582.0" y1="606.66" x2="589.0" y2="606.66" stroke="#000" stroke-width="1.9"/>
<line x1="582.0" y1="590.92" x2="589.0" y2="590.92" stroke="#000" stroke-width="1.9"/>
<line x1="582.0" y1="575.18" x2="589.0" y2="575.18" stroke="#000" stroke-width="1.9"/>
<line x1="582.0" y1="543.6999999999999" x2="589.0" y2="543.6999999999999" stroke="#000" stroke-width="1.9"/>
<line x1="582.0" y1="527.96" x2="589.0" y2="527.96" stroke="#000" stroke-width="1.9"/>
<line x1="582.0" y1="512.22" x2="589.0" y2="512.22" stroke="#000" stroke-width="1.9"/>
<line x1="582.0" y1="480.74" x2="589.0" y2="480.74" stroke="#000" stroke-width="1.9"/>
<line x1="582.0" y1="465.0" x2="589.0" y2="465.0" stroke="#000" stroke-width="1.9"/>
<line x1="582.0" y1="449.26" x2="589.0" y2="449.26" stroke="#000" stroke-width="1.9"/>
<line x1="582.0" y1="433.52" x2="589.0" y2="433.52" stroke="#000" stroke-width="1.9"/>
<line x1="582.0" y1="658.9" x2="589.0" y2="658.9" stroke="#000" stroke-width="1.9"/>
<line x1="582.0" y1="667.0" x2="589.0" y2="667.0" stroke="#000" stroke-width="1.9"/>
<line x1="582.0" y1="675.9" x2="589.0" y2="675.9" stroke="#000" stroke-width="1.9"/>
<line x1="582.0" y1="695.9" x2="589.0" y2="695.9" stroke="#000" stroke-width="1.9"/>
<line x1="582.0" y1="727.0" x2="589.0" y2="727.0" stroke="#000" stroke-width="1.9"/>
<line x1="589.0" y1="726.7" x2="589.0" y2="739.0" stroke="#000" stroke-width="2.4"/>
<text x="589.5" y="775.9" font-size="29.5" text-anchor="middle">10<tspan font-size="20.6" dy="-10.2">−5</tspan></text>
<line x1="767.1" y1="726.7" x2="767.1" y2="739.0" stroke="#000" stroke-width="2.4"/>
<text x="767.7" y="775.9" font-size="29.5" text-anchor="middle">10<tspan font-size="20.6" dy="-10.2">−2</tspan></text>
<text x="737.5" y="820.2" font-size="29.5" text-anchor="middle" font-weight="normal" >p</text>
<text x="673.45" y="463.20" font-size="23.5">3</text>
<text x="687.65" y="454.20" font-size="16.5">0</text>
<text x="702.35" y="463.20" font-size="23.5">−</text>
<text x="725.65" y="463.20" font-size="23.5">2</text>
<text x="739.75" y="454.20" font-size="16.5">1</text>
<text x="754.85" y="463.20" font-size="23.5">−</text>
<text x="777.65" y="463.20" font-size="23.5">1</text>
<text x="792.25" y="454.20" font-size="16.5">1</text>
<text x="495.9" y="439.8" font-size="38.5" font-weight="bold" style="font-family:'Liberation Sans',Arial,sans-serif">F</text>
<clipPath id="cp6"><rect x="1030.8" y="433.2" width="296.9" height="293.50000000000006"/></clipPath>
<line x1="1030.8" y1="579.8" x2="1323.7" y2="579.8" stroke="#000" stroke-width="3.4"/>
<g clip-path="url(#cp6)"><polyline points="1180.0,652.0 1186.0,655.0 1192.0,656.0 1198.0,657.0" fill="none" stroke="#1f77b4" stroke-opacity="0.6" stroke-width="3.6" stroke-linejoin="round" stroke-linecap="butt"/>
<use href="#mb0" x="1180.0" y="652.0"/>
<use href="#mb0" x="1186.0" y="655.0"/>
<use href="#mb0" x="1192.0" y="656.0"/>
<use href="#mb0" x="1198.0" y="657.0"/>
<polyline points="1087.8,651.5 1094.0,632.0 1100.3,614.2 1105.6,600.0 1111.0,598.0 1116.3,596.4 1123.4,617.7 1128.0,612.0 1134.0,607.1 1141.1,617.7 1146.0,612.0 1151.8,607.1 1158.9,639.0 1166.0,642.6 1171.0,650.0 1176.6,660.4 1180.2,706.5 1187.3,678.1 1193.0,660.0 1199.0,640.0 1205.1,617.7 1212.2,635.5 1218.0,645.0 1224.0,650.0 1230.0,645.0 1237.0,635.0 1244.1,626.6 1254.8,671.0 1265.5,671.0 1272.6,642.6 1283.2,592.9 1286.8,624.8 1295.7,626.6" fill="none" stroke="#17becf" stroke-opacity="0.6" stroke-width="3.6" stroke-linejoin="round" stroke-linecap="butt"/>
<use href="#mc1" x="1087.8" y="651.5"/>
<use href="#mc1" x="1094.0" y="632.0"/>
<use href="#mc1" x="1100.3" y="614.2"/>
<use href="#mc1" x="1105.6" y="600.0"/>
<use href="#mc1" x="1111.0" y="598.0"/>
<use href="#mc1" x="1116.3" y="596.4"/>
<use href="#mc1" x="1123.4" y="617.7"/>
<use href="#mc1" x="1128.0" y="612.0"/>
<use href="#mc1" x="1134.0" y="607.1"/>
<use href="#mc1" x="1141.1" y="617.7"/>
<use href="#mc1" x="1146.0" y="612.0"/>
<use href="#mc1" x="1151.8" y="607.1"/>
<use href="#mc1" x="1158.9" y="639.0"/>
<use href="#mc1" x="1166.0" y="642.6"/>
<use href="#mc1" x="1171.0" y="650.0"/>
<use href="#mc1" x="1176.6" y="660.4"/>
<use href="#mc1" x="1180.2" y="706.5"/>
<use href="#mc1" x="1187.3" y="678.1"/>
<use href="#mc1" x="1193.0" y="660.0"/>
<use href="#mc1" x="1199.0" y="640.0"/>
<use href="#mc1" x="1205.1" y="617.7"/>
<use href="#mc1" x="1212.2" y="635.5"/>
<use href="#mc1" x="1218.0" y="645.0"/>
<use href="#mc1" x="1224.0" y="650.0"/>
<use href="#mc1" x="1230.0" y="645.0"/>
<use href="#mc1" x="1237.0" y="635.0"/>
<use href="#mc1" x="1244.1" y="626.6"/>
<use href="#mc1" x="1254.8" y="671.0"/>
<use href="#mc1" x="1265.5" y="671.0"/>
<use href="#mc1" x="1272.6" y="642.6"/>
<use href="#mc1" x="1283.2" y="592.9"/>
<use href="#mc1" x="1286.8" y="624.8"/>
<use href="#mc1" x="1295.7" y="626.6"/>
<polyline points="1092.0,645.0 1100.0,630.0 1106.0,615.0 1112.7,603.5 1118.0,610.0 1124.0,612.0 1130.5,617.7 1136.0,614.0 1142.0,612.0 1148.2,610.6 1130.5,663.9 1136.0,655.0 1142.0,672.0 1148.2,685.2 1154.0,660.0 1160.0,645.0 1166.0,650.0 1172.0,665.0 1176.0,690.0 1181.0,700.0" fill="none" stroke="#17becf" stroke-opacity="0.6" stroke-width="3.6" stroke-linejoin="round" stroke-linecap="butt"/>
<use href="#mc1" x="1092.0" y="645.0"/>
<use href="#mc1" x="1100.0" y="630.0"/>
<use href="#mc1" x="1106.0" y="615.0"/>
<use href="#mc1" x="1112.7" y="603.5"/>
<use href="#mc1" x="1118.0" y="610.0"/>
<use href="#mc1" x="1124.0" y="612.0"/>
<use href="#mc1" x="1130.5" y="617.7"/>
<use href="#mc1" x="1136.0" y="614.0"/>
<use href="#mc1" x="1142.0" y="612.0"/>
<use href="#mc1" x="1148.2" y="610.6"/>
<use href="#mc1" x="1130.5" y="663.9"/>
<use href="#mc1" x="1136.0" y="655.0"/>
<use href="#mc1" x="1142.0" y="672.0"/>
<use href="#mc1" x="1148.2" y="685.2"/>
<use href="#mc1" x="1154.0" y="660.0"/>
<use href="#mc1" x="1160.0" y="645.0"/>
<use href="#mc1" x="1166.0" y="650.0"/>
<use href="#mc1" x="1172.0" y="665.0"/>
<use href="#mc1" x="1176.0" y="690.0"/>
<use href="#mc1" x="1181.0" y="700.0"/>
<polyline points="1155.3,674.6 1162.4,656.8 1168.0,655.0 1174.0,654.0 1180.2,653.2 1186.0,655.0 1192.0,657.0 1197.9,658.6 1204.0,660.0 1210.0,662.0 1215.7,663.9 1222.0,662.0 1229.9,660.4 1236.0,658.0 1244.1,656.8 1250.0,654.0 1258.4,647.9 1267.2,639.0" fill="none" stroke="#2ca02c" stroke-opacity="0.6" stroke-width="3.6" stroke-linejoin="round" stroke-linecap="butt"/>
<use href="#mg3" x="1155.3" y="674.6"/>
<use href="#mg3" x="1162.4" y="656.8"/>
<use href="#mg3" x="1168.0" y="655.0"/>
<use href="#mg3" x="1174.0" y="654.0"/>
<use href="#mg3" x="1180.2" y="653.2"/>
<use href="#mg3" x="1186.0" y="655.0"/>
<use href="#mg3" x="1192.0" y="657.0"/>
<use href="#mg3" x="1197.9" y="658.6"/>
<use href="#mg3" x="1204.0" y="660.0"/>
<use href="#mg3" x="1210.0" y="662.0"/>
<use href="#mg3" x="1215.7" y="663.9"/>
<use href="#mg3" x="1222.0" y="662.0"/>
<use href="#mg3" x="1229.9" y="660.4"/>
<use href="#mg3" x="1236.0" y="658.0"/>
<use href="#mg3" x="1244.1" y="656.8"/>
<use href="#mg3" x="1250.0" y="654.0"/>
<use href="#mg3" x="1258.4" y="647.9"/>
<use href="#mg3" x="1267.2" y="639.0"/>
<polyline points="1262.0,640.0 1267.0,625.0 1270.8,589.3 1272.6,556.6 1281.4,556.6" fill="none" stroke="#2ca02c" stroke-opacity="0.6" stroke-width="3.6" stroke-linejoin="round" stroke-linecap="butt"/>
<use href="#mg3" x="1262.0" y="640.0"/>
<use href="#mg3" x="1267.0" y="625.0"/>
<use href="#mg3" x="1270.8" y="589.3"/>
<use href="#mg3" x="1272.6" y="556.6"/>
<use href="#mg3" x="1281.4" y="556.6"/>
<polyline points="1173.1,685.2 1180.2,642.6 1185.0,640.0 1190.9,639.0 1196.0,643.0 1201.5,646.1 1208.0,649.0 1215.7,651.5 1222.0,651.0 1229.9,649.7 1237.0,645.0 1244.1,639.0 1251.0,632.0 1258.4,624.8 1264.0,614.0 1269.0,603.5 1274.0,595.0 1279.7,585.8 1286.8,578.6 1292.1,568.0 1297.4,550.2 1301.0,532.5 1304.5,518.3 1309.9,470.3 1315.2,496.9" fill="none" stroke="#d62728" stroke-opacity="0.6" stroke-width="3.6" stroke-linejoin="round" stroke-linecap="butt"/>
<use href="#mr2" x="1173.1" y="685.2"/>
<use href="#mr2" x="1180.2" y="642.6"/>
<use href="#mr2" x="1185.0" y="640.0"/>
<use href="#mr2" x="1190.9" y="639.0"/>
<use href="#mr2" x="1196.0" y="643.0"/>
<use href="#mr2" x="1201.5" y="646.1"/>
<use href="#mr2" x="1208.0" y="649.0"/>
<use href="#mr2" x="1215.7" y="651.5"/>
<use href="#mr2" x="1222.0" y="651.0"/>
<use href="#mr2" x="1229.9" y="649.7"/>
<use href="#mr2" x="1237.0" y="645.0"/>
<use href="#mr2" x="1244.1" y="639.0"/>
<use href="#mr2" x="1251.0" y="632.0"/>
<use href="#mr2" x="1258.4" y="624.8"/>
<use href="#mr2" x="1264.0" y="614.0"/>
<use href="#mr2" x="1269.0" y="603.5"/>
<use href="#mr2" x="1274.0" y="595.0"/>
<use href="#mr2" x="1279.7" y="585.8"/>
<use href="#mr2" x="1286.8" y="578.6"/>
<use href="#mr2" x="1292.1" y="568.0"/>
<use href="#mr2" x="1297.4" y="550.2"/>
<use href="#mr2" x="1301.0" y="532.5"/>
<use href="#mr2" x="1304.5" y="518.3"/>
<use href="#mr2" x="1309.9" y="470.3"/>
<use href="#mr2" x="1315.2" y="496.9"/>
<polyline points="1190.0,645.0 1196.0,648.0 1201.5,649.7 1208.0,652.0 1213.0,656.0 1219.3,660.4 1225.0,657.0 1231.0,653.0 1237.0,649.7 1244.0,646.0 1251.2,642.6 1258.0,639.0 1265.5,635.5 1270.0,625.0 1276.1,610.6 1281.0,596.0 1286.8,582.2 1292.0,572.0" fill="none" stroke="#d62728" stroke-opacity="0.6" stroke-width="3.6" stroke-linejoin="round" stroke-linecap="butt"/>
<use href="#mr2" x="1190.0" y="645.0"/>
<use href="#mr2" x="1196.0" y="648.0"/>
<use href="#mr2" x="1201.5" y="649.7"/>
<use href="#mr2" x="1208.0" y="652.0"/>
<use href="#mr2" x="1213.0" y="656.0"/>
<use href="#mr2" x="1219.3" y="660.4"/>
<use href="#mr2" x="1225.0" y="657.0"/>
<use href="#mr2" x="1231.0" y="653.0"/>
<use href="#mr2" x="1237.0" y="649.7"/>
<use href="#mr2" x="1244.0" y="646.0"/>
<use href="#mr2" x="1251.2" y="642.6"/>
<use href="#mr2" x="1258.0" y="639.0"/>
<use href="#mr2" x="1265.5" y="635.5"/>
<use href="#mr2" x="1270.0" y="625.0"/>
<use href="#mr2" x="1276.1" y="610.6"/>
<use href="#mr2" x="1281.0" y="596.0"/>
<use href="#mr2" x="1286.8" y="582.2"/>
<use href="#mr2" x="1292.0" y="572.0"/>
<polyline points="1089.6,660.4 1095.0,650.0 1102.0,642.6 1109.0,639.0 1116.3,635.5 1123.0,633.0 1130.5,630.2 1137.0,634.0 1144.7,639.0 1151.0,643.0 1158.9,646.1 1166.0,648.0 1173.1,649.7 1180.0,651.0 1187.3,651.5 1194.0,646.0 1201.5,639.0 1207.0,620.0 1212.2,607.1 1217.0,603.0 1222.8,600.0 1228.0,592.0 1233.5,584.0 1238.0,586.0 1244.1,585.8 1251.2,582.2" fill="none" stroke="#9467bd" stroke-opacity="0.6" stroke-width="3.6" stroke-linejoin="round" stroke-linecap="butt"/>
<use href="#mp4" x="1089.6" y="660.4"/>
<use href="#mp4" x="1095.0" y="650.0"/>
<use href="#mp4" x="1102.0" y="642.6"/>
<use href="#mp4" x="1109.0" y="639.0"/>
<use href="#mp4" x="1116.3" y="635.5"/>
<use href="#mp4" x="1123.0" y="633.0"/>
<use href="#mp4" x="1130.5" y="630.2"/>
<use href="#mp4" x="1137.0" y="634.0"/>
<use href="#mp4" x="1144.7" y="639.0"/>
<use href="#mp4" x="1151.0" y="643.0"/>
<use href="#mp4" x="1158.9" y="646.1"/>
<use href="#mp4" x="1166.0" y="648.0"/>
<use href="#mp4" x="1173.1" y="649.7"/>
<use href="#mp4" x="1180.0" y="651.0"/>
<use href="#mp4" x="1187.3" y="651.5"/>
<use href="#mp4" x="1194.0" y="646.0"/>
<use href="#mp4" x="1201.5" y="639.0"/>
<use href="#mp4" x="1207.0" y="620.0"/>
<use href="#mp4" x="1212.2" y="607.1"/>
<use href="#mp4" x="1217.0" y="603.0"/>
<use href="#mp4" x="1222.8" y="600.0"/>
<use href="#mp4" x="1228.0" y="592.0"/>
<use href="#mp4" x="1233.5" y="584.0"/>
<use href="#mp4" x="1238.0" y="586.0"/>
<use href="#mp4" x="1244.1" y="585.8"/>
<use href="#mp4" x="1251.2" y="582.2"/>
<polyline points="1094.9,683.4 1100.0,675.0 1105.6,667.5 1111.0,662.0 1116.3,656.8 1123.0,651.0 1130.5,646.1 1137.0,644.0 1144.7,642.6 1151.0,646.0 1158.9,649.7 1166.0,655.0 1173.1,660.4 1178.0,663.0 1183.8,667.5 1190.9,676.3 1198.0,646.1 1205.0,630.0 1212.2,617.7 1220.0,612.0 1230.0,607.1 1237.0,603.0 1244.1,600.0 1254.8,607.1" fill="none" stroke="#9467bd" stroke-opacity="0.6" stroke-width="3.6" stroke-linejoin="round" stroke-linecap="butt"/>
<use href="#mp4" x="1094.9" y="683.4"/>
<use href="#mp4" x="1100.0" y="675.0"/>
<use href="#mp4" x="1105.6" y="667.5"/>
<use href="#mp4" x="1111.0" y="662.0"/>
<use href="#mp4" x="1116.3" y="656.8"/>
<use href="#mp4" x="1123.0" y="651.0"/>
<use href="#mp4" x="1130.5" y="646.1"/>
<use href="#mp4" x="1137.0" y="644.0"/>
<use href="#mp4" x="1144.7" y="642.6"/>
<use href="#mp4" x="1151.0" y="646.0"/>
<use href="#mp4" x="1158.9" y="649.7"/>
<use href="#mp4" x="1166.0" y="655.0"/>
<use href="#mp4" x="1173.1" y="660.4"/>
<use href="#mp4" x="1178.0" y="663.0"/>
<use href="#mp4" x="1183.8" y="667.5"/>
<use href="#mp4" x="1190.9" y="676.3"/>
<use href="#mp4" x="1198.0" y="646.1"/>
<use href="#mp4" x="1205.0" y="630.0"/>
<use href="#mp4" x="1212.2" y="617.7"/>
<use href="#mp4" x="1220.0" y="612.0"/>
<use href="#mp4" x="1230.0" y="607.1"/>
<use href="#mp4" x="1237.0" y="603.0"/>
<use href="#mp4" x="1244.1" y="600.0"/>
<use href="#mp4" x="1254.8" y="607.1"/></g>
<rect x="1030.8" y="433.2" width="296.9" height="293.50000000000006" fill="none" stroke="#000" stroke-width="3"/>
<line x1="1018.3" y1="485.2" x2="1030.8" y2="485.2" stroke="#000" stroke-width="2.4"/>
<text x="1005.7" y="496.7" font-size="29.5" text-anchor="end">10<tspan font-size="20.6" dy="-10.6" dx="-0.5">1</tspan></text>
<line x1="1018.3" y1="579.5" x2="1030.8" y2="579.5" stroke="#000" stroke-width="2.4"/>
<text x="1005.7" y="591.0" font-size="29.5" text-anchor="end">0</text>
<line x1="1018.3" y1="674.9" x2="1030.8" y2="674.9" stroke="#000" stroke-width="2.4"/>
<text x="1005.7" y="686.4" font-size="29.5" text-anchor="end">−10<tspan font-size="20.6" dy="-10.6" dx="-0.5">1</tspan></text>
<line x1="1023.8" y1="433.1" x2="1030.8" y2="433.1" stroke="#000" stroke-width="1.9"/>
<line x1="1023.8" y1="551.0" x2="1030.8" y2="551.0" stroke="#000" stroke-width="1.9"/>
<line x1="1023.8" y1="609.4" x2="1030.8" y2="609.4" stroke="#000" stroke-width="1.9"/>
<line x1="1023.8" y1="726.8" x2="1030.8" y2="726.8" stroke="#000" stroke-width="1.9"/>
<line x1="1030.8" y1="726.7" x2="1030.8" y2="739.0" stroke="#000" stroke-width="2.4"/>
<text x="1031.3" y="775.9" font-size="29.5" text-anchor="middle">10<tspan font-size="20.6" dy="-10.2">−5</tspan></text>
<line x1="1208.9" y1="726.7" x2="1208.9" y2="739.0" stroke="#000" stroke-width="2.4"/>
<text x="1209.5" y="775.9" font-size="29.5" text-anchor="middle">10<tspan font-size="20.6" dy="-10.2">−2</tspan></text>
<text x="1179.2" y="820.2" font-size="29.5" text-anchor="middle" font-weight="normal" >p</text>
<text x="1115.25" y="463.20" font-size="23.5">3</text>
<text x="1129.45" y="454.20" font-size="16.5">0</text>
<text x="1144.15" y="463.20" font-size="23.5">−</text>
<text x="1167.45" y="463.20" font-size="23.5">2</text>
<text x="1181.55" y="454.20" font-size="16.5">2</text>
<text x="1196.65" y="463.20" font-size="23.5">−</text>
<text x="1219.45" y="463.20" font-size="23.5">1</text>
<text x="1234.05" y="454.20" font-size="16.5">0</text>
<text x="924.5" y="438.9" font-size="38.5" font-weight="bold" style="font-family:'Liberation Sans',Arial,sans-serif">G</text>
<clipPath id="cp7"><rect x="1472.3" y="433.2" width="296.9" height="293.50000000000006"/></clipPath>
<line x1="1472.3" y1="579.8" x2="1765.2" y2="579.8" stroke="#000" stroke-width="3.4"/>
<g clip-path="url(#cp7)"><polyline points="1622.2,639.0 1629.0,641.0 1636.4,644.4 1643.0,648.0 1650.6,651.5 1657.0,650.0 1664.8,649.7 1672.0,653.0 1679.0,656.8 1686.0,658.0 1693.2,660.4 1700.0,659.0 1707.5,658.6 1714.6,647.9 1723.4,647.9" fill="none" stroke="#1f77b4" stroke-opacity="0.6" stroke-width="3.6" stroke-linejoin="round" stroke-linecap="butt"/>
<use href="#mb0" x="1622.2" y="639.0"/>
<use href="#mb0" x="1629.0" y="641.0"/>
<use href="#mb0" x="1636.4" y="644.4"/>
<use href="#mb0" x="1643.0" y="648.0"/>
<use href="#mb0" x="1650.6" y="651.5"/>
<use href="#mb0" x="1657.0" y="650.0"/>
<use href="#mb0" x="1664.8" y="649.7"/>
<use href="#mb0" x="1672.0" y="653.0"/>
<use href="#mb0" x="1679.0" y="656.8"/>
<use href="#mb0" x="1686.0" y="658.0"/>
<use href="#mb0" x="1693.2" y="660.4"/>
<use href="#mb0" x="1700.0" y="659.0"/>
<use href="#mb0" x="1707.5" y="658.6"/>
<use href="#mb0" x="1714.6" y="647.9"/>
<use href="#mb0" x="1723.4" y="647.9"/>
<polyline points="1562.6,566.5 1568.8,571.0 1575.2,521.5 1581.8,534.0 1585.2,557.0 1591.5,589.0" fill="none" stroke="#17becf" stroke-opacity="0.6" stroke-width="3.6" stroke-linejoin="round" stroke-linecap="butt"/>
<use href="#mc1" x="1562.6" y="566.5"/>
<use href="#mc1" x="1568.8" y="571.0"/>
<use href="#mc1" x="1575.2" y="521.5"/>
<use href="#mc1" x="1581.8" y="534.0"/>
<use href="#mc1" x="1585.2" y="557.0"/>
<use href="#mc1" x="1591.5" y="589.0"/>
<polyline points="1602.7,646.1 1608.0,591.1 1615.1,585.8 1618.6,663.9 1629.3,667.5 1636.0,660.0 1643.0,655.0 1650.0,652.0 1657.0,651.0 1664.8,649.7 1672.0,652.0 1679.0,655.0 1686.0,657.0 1693.2,660.4 1700.0,662.0 1707.5,663.9 1714.0,666.0 1721.7,669.2 1728.0,669.0 1735.9,669.2" fill="none" stroke="#17becf" stroke-opacity="0.6" stroke-width="3.6" stroke-linejoin="round" stroke-linecap="butt"/>
<use href="#mc1" x="1602.7" y="646.1"/>
<use href="#mc1" x="1608.0" y="591.1"/>
<use href="#mc1" x="1615.1" y="585.8"/>
<use href="#mc1" x="1618.6" y="663.9"/>
<use href="#mc1" x="1629.3" y="667.5"/>
<use href="#mc1" x="1636.0" y="660.0"/>
<use href="#mc1" x="1643.0" y="655.0"/>
<use href="#mc1" x="1650.0" y="652.0"/>
<use href="#mc1" x="1657.0" y="651.0"/>
<use href="#mc1" x="1664.8" y="649.7"/>
<use href="#mc1" x="1672.0" y="652.0"/>
<use href="#mc1" x="1679.0" y="655.0"/>
<use href="#mc1" x="1686.0" y="657.0"/>
<use href="#mc1" x="1693.2" y="660.4"/>
<use href="#mc1" x="1700.0" y="662.0"/>
<use href="#mc1" x="1707.5" y="663.9"/>
<use href="#mc1" x="1714.0" y="666.0"/>
<use href="#mc1" x="1721.7" y="669.2"/>
<use href="#mc1" x="1728.0" y="669.0"/>
<use href="#mc1" x="1735.9" y="669.2"/>
<polyline points="1608.0,603.5 1615.1,613.5 1618.6,649.7 1625.8,655.0 1631.0,657.0 1636.4,658.6 1643.0,662.0 1650.6,667.5 1657.0,671.0 1664.8,674.6 1672.0,674.0 1679.0,673.0 1686.1,672.8 1693.0,672.0 1700.0,671.0 1703.9,671.0 1710.0,669.0 1716.0,668.0 1721.7,667.5" fill="none" stroke="#2ca02c" stroke-opacity="0.6" stroke-width="3.6" stroke-linejoin="round" stroke-linecap="butt"/>
<use href="#mg3" x="1608.0" y="603.5"/>
<use href="#mg3" x="1615.1" y="613.5"/>
<use href="#mg3" x="1618.6" y="649.7"/>
<use href="#mg3" x="1625.8" y="655.0"/>
<use href="#mg3" x="1631.0" y="657.0"/>
<use href="#mg3" x="1636.4" y="658.6"/>
<use href="#mg3" x="1643.0" y="662.0"/>
<use href="#mg3" x="1650.6" y="667.5"/>
<use href="#mg3" x="1657.0" y="671.0"/>
<use href="#mg3" x="1664.8" y="674.6"/>
<use href="#mg3" x="1672.0" y="674.0"/>
<use href="#mg3" x="1679.0" y="673.0"/>
<use href="#mg3" x="1686.1" y="672.8"/>
<use href="#mg3" x="1693.0" y="672.0"/>
<use href="#mg3" x="1700.0" y="671.0"/>
<use href="#mg3" x="1703.9" y="671.0"/>
<use href="#mg3" x="1710.0" y="669.0"/>
<use href="#mg3" x="1716.0" y="668.0"/>
<use href="#mg3" x="1721.7" y="667.5"/>
<polyline points="1655.0,665.0 1664.0,668.0 1672.0,670.0 1680.0,668.0 1690.0,666.0 1700.0,667.0 1708.0,665.0" fill="none" stroke="#2ca02c" stroke-opacity="0.6" stroke-width="3.6" stroke-linejoin="round" stroke-linecap="butt"/>
<use href="#mg3" x="1655.0" y="665.0"/>
<use href="#mg3" x="1664.0" y="668.0"/>
<use href="#mg3" x="1672.0" y="670.0"/>
<use href="#mg3" x="1680.0" y="668.0"/>
<use href="#mg3" x="1690.0" y="666.0"/>
<use href="#mg3" x="1700.0" y="667.0"/>
<use href="#mg3" x="1708.0" y="665.0"/>
<polyline points="1625.8,624.8 1632.9,642.6 1640.0,649.7 1645.0,655.0 1650.6,660.4 1656.0,665.0 1661.3,669.2 1667.0,674.0 1671.9,678.1 1679.0,679.0 1686.1,679.9 1692.0,679.0 1698.0,678.5 1703.9,678.1 1710.0,677.0 1716.0,676.0 1721.7,674.6 1728.0,675.0 1735.9,674.6 1744.8,663.9 1750.0,672.0 1757.2,669.2" fill="none" stroke="#d62728" stroke-opacity="0.6" stroke-width="3.6" stroke-linejoin="round" stroke-linecap="butt"/>
<use href="#mr2" x="1625.8" y="624.8"/>
<use href="#mr2" x="1632.9" y="642.6"/>
<use href="#mr2" x="1640.0" y="649.7"/>
<use href="#mr2" x="1645.0" y="655.0"/>
<use href="#mr2" x="1650.6" y="660.4"/>
<use href="#mr2" x="1656.0" y="665.0"/>
<use href="#mr2" x="1661.3" y="669.2"/>
<use href="#mr2" x="1667.0" y="674.0"/>
<use href="#mr2" x="1671.9" y="678.1"/>
<use href="#mr2" x="1679.0" y="679.0"/>
<use href="#mr2" x="1686.1" y="679.9"/>
<use href="#mr2" x="1692.0" y="679.0"/>
<use href="#mr2" x="1698.0" y="678.5"/>
<use href="#mr2" x="1703.9" y="678.1"/>
<use href="#mr2" x="1710.0" y="677.0"/>
<use href="#mr2" x="1716.0" y="676.0"/>
<use href="#mr2" x="1721.7" y="674.6"/>
<use href="#mr2" x="1728.0" y="675.0"/>
<use href="#mr2" x="1735.9" y="674.6"/>
<use href="#mr2" x="1744.8" y="663.9"/>
<use href="#mr2" x="1750.0" y="672.0"/>
<use href="#mr2" x="1757.2" y="669.2"/>
<polyline points="1655.0,685.0 1661.3,688.8 1666.0,692.0 1671.9,694.1 1678.0,693.5 1686.1,692.3 1692.0,691.0 1698.0,690.0 1703.9,688.8 1710.0,686.0 1716.0,684.0 1721.7,681.7 1728.0,680.0 1735.9,678.1 1741.0,681.0 1746.5,683.4" fill="none" stroke="#d62728" stroke-opacity="0.6" stroke-width="3.6" stroke-linejoin="round" stroke-linecap="butt"/>
<use href="#mr2" x="1655.0" y="685.0"/>
<use href="#mr2" x="1661.3" y="688.8"/>
<use href="#mr2" x="1666.0" y="692.0"/>
<use href="#mr2" x="1671.9" y="694.1"/>
<use href="#mr2" x="1678.0" y="693.5"/>
<use href="#mr2" x="1686.1" y="692.3"/>
<use href="#mr2" x="1692.0" y="691.0"/>
<use href="#mr2" x="1698.0" y="690.0"/>
<use href="#mr2" x="1703.9" y="688.8"/>
<use href="#mr2" x="1710.0" y="686.0"/>
<use href="#mr2" x="1716.0" y="684.0"/>
<use href="#mr2" x="1721.7" y="681.7"/>
<use href="#mr2" x="1728.0" y="680.0"/>
<use href="#mr2" x="1735.9" y="678.1"/>
<use href="#mr2" x="1741.0" y="681.0"/>
<use href="#mr2" x="1746.5" y="683.4"/>
<polyline points="1561.8,543.1 1567.1,578.6" fill="none" stroke="#9467bd" stroke-opacity="0.6" stroke-width="3.6" stroke-linejoin="round" stroke-linecap="butt"/>
<use href="#mp4" x="1561.8" y="543.1"/>
<use href="#mp4" x="1567.1" y="578.6"/>
<polyline points="1544.0,646.1 1549.4,614.2 1556.5,619.5 1563.6,607.1 1568.9,607.1 1574.2,615.9 1579.6,644.4 1586.7,647.9 1593.8,649.7 1597.3,658.6 1603.0,657.0 1608.0,656.8 1613.0,660.0 1618.6,663.9 1625.8,676.3 1631.0,678.0 1636.4,679.9 1643.0,682.0 1650.6,687.0 1657.7,674.6 1662.0,674.6 1666.6,674.6 1675.5,653.2 1682.0,650.0 1689.7,647.9 1698.6,617.7" fill="none" stroke="#9467bd" stroke-opacity="0.6" stroke-width="3.6" stroke-linejoin="round" stroke-linecap="butt"/>
<polyline points="1579.6,603.5 1583.0,625.0 1586.7,640.0" fill="none" stroke="#9467bd" stroke-opacity="0.6" stroke-width="3.6" stroke-linejoin="round" stroke-linecap="butt"/>
<use href="#mp4" x="1544.0" y="646.1"/>
<use href="#mp4" x="1549.4" y="614.2"/>
<use href="#mp4" x="1556.5" y="619.5"/>
<use href="#mp4" x="1563.6" y="607.1"/>
<use href="#mp4" x="1568.9" y="607.1"/>
<use href="#mp4" x="1574.2" y="615.9"/>
<use href="#mp4" x="1579.6" y="644.4"/>
<use href="#mp4" x="1586.7" y="647.9"/>
<use href="#mp4" x="1593.8" y="649.7"/>
<use href="#mp4" x="1597.3" y="658.6"/>
<use href="#mp4" x="1603.0" y="657.0"/>
<use href="#mp4" x="1608.0" y="656.8"/>
<use href="#mp4" x="1613.0" y="660.0"/>
<use href="#mp4" x="1618.6" y="663.9"/>
<use href="#mp4" x="1625.8" y="676.3"/>
<use href="#mp4" x="1631.0" y="678.0"/>
<use href="#mp4" x="1636.4" y="679.9"/>
<use href="#mp4" x="1643.0" y="682.0"/>
<use href="#mp4" x="1650.6" y="687.0"/>
<use href="#mp4" x="1657.7" y="674.6"/>
<use href="#mp4" x="1662.0" y="674.6"/>
<use href="#mp4" x="1666.6" y="674.6"/>
<use href="#mp4" x="1675.5" y="653.2"/>
<use href="#mp4" x="1682.0" y="650.0"/>
<use href="#mp4" x="1689.7" y="647.9"/>
<use href="#mp4" x="1698.6" y="617.7"/>
<use href="#mp4" x="1579.6" y="603.5"/>
<use href="#mp4" x="1583.0" y="625.0"/>
<use href="#mp4" x="1586.7" y="640.0"/></g>
<rect x="1472.3" y="433.2" width="296.9" height="293.50000000000006" fill="none" stroke="#000" stroke-width="3"/>
<line x1="1459.8" y1="485.2" x2="1472.3" y2="485.2" stroke="#000" stroke-width="2.4"/>
<text x="1447.2" y="496.7" font-size="29.5" text-anchor="end">10<tspan font-size="20.6" dy="-10.6" dx="-0.5">1</tspan></text>
<line x1="1459.8" y1="579.5" x2="1472.3" y2="579.5" stroke="#000" stroke-width="2.4"/>
<text x="1447.2" y="591.0" font-size="29.5" text-anchor="end">0</text>
<line x1="1459.8" y1="674.9" x2="1472.3" y2="674.9" stroke="#000" stroke-width="2.4"/>
<text x="1447.2" y="686.4" font-size="29.5" text-anchor="end">−10<tspan font-size="20.6" dy="-10.6" dx="-0.5">1</tspan></text>
<line x1="1465.3" y1="433.1" x2="1472.3" y2="433.1" stroke="#000" stroke-width="1.9"/>
<line x1="1465.3" y1="551.0" x2="1472.3" y2="551.0" stroke="#000" stroke-width="1.9"/>
<line x1="1465.3" y1="609.4" x2="1472.3" y2="609.4" stroke="#000" stroke-width="1.9"/>
<line x1="1465.3" y1="726.8" x2="1472.3" y2="726.8" stroke="#000" stroke-width="1.9"/>
<line x1="1472.3" y1="726.7" x2="1472.3" y2="739.0" stroke="#000" stroke-width="2.4"/>
<text x="1472.8" y="775.9" font-size="29.5" text-anchor="middle">10<tspan font-size="20.6" dy="-10.2">−5</tspan></text>
<line x1="1650.4" y1="726.7" x2="1650.4" y2="739.0" stroke="#000" stroke-width="2.4"/>
<text x="1651.0" y="775.9" font-size="29.5" text-anchor="middle">10<tspan font-size="20.6" dy="-10.2">−2</tspan></text>
<text x="1620.8" y="820.2" font-size="29.5" text-anchor="middle" font-weight="normal" >p</text>
<text x="1556.75" y="463.20" font-size="23.5">3</text>
<text x="1570.95" y="454.20" font-size="16.5">0</text>
<text x="1585.65" y="463.20" font-size="23.5">−</text>
<text x="1608.95" y="463.20" font-size="23.5">2</text>
<text x="1623.05" y="454.20" font-size="16.5">3</text>
<text x="1638.15" y="463.20" font-size="23.5">−</text>
<text x="1660.95" y="463.20" font-size="23.5">1</text>
<text x="1675.55" y="454.20" font-size="16.5">0</text>
<text x="1392.6" y="438.6" font-size="38.5" font-weight="bold" style="font-family:'Liberation Sans',Arial,sans-serif">H</text>
<text transform="translate(24,243.9) rotate(-90)" font-size="29.5" text-anchor="middle">Δ<tspan font-size="21" font-style="italic" dy="5">f</tspan></text>
<text transform="translate(24,582.2) rotate(-90)" font-size="29.5" text-anchor="middle">Δ<tspan font-size="21" font-style="italic" dy="5">f</tspan></text>
<line x1="140.7" y1="17.2" x2="189.1" y2="17.2" stroke="#1f77b4" stroke-opacity="0.6" stroke-width="3.4"/>
<circle cx="164.9" cy="17.2" r="5.45" fill="#1f77b4" fill-opacity="0.6" stroke="#1f77b4" stroke-opacity="0.6" stroke-width="3.4"/>
<text x="205.2" y="25.2" font-size="22" text-anchor="start" font-weight="normal" >Enron</text>
<line x1="140.7" y1="50.2" x2="189.1" y2="50.2" stroke="#17becf" stroke-opacity="0.6" stroke-width="3.4"/>
<path transform="translate(163.7,50.2)" d="M-11.30,0L11.30,-11.30L11.30,11.30Z" fill="#17becf" fill-opacity="0.6" stroke="#17becf" stroke-opacity="0.6" stroke-width="3.4" stroke-linejoin="miter"/>
<text x="205.2" y="58.2" font-size="22" text-anchor="start" font-weight="normal" >NDC-classes</text>
<line x1="384.7" y1="17.2" x2="433.09999999999997" y2="17.2" stroke="#17becf" stroke-opacity="0.6" stroke-width="3.4"/>
<path transform="translate(407.7,17.2)" d="M-11.30,0L11.30,-11.30L11.30,11.30Z" fill="#17becf" fill-opacity="0.6" stroke="#17becf" stroke-opacity="0.6" stroke-width="3.4" stroke-linejoin="miter"/>
<text x="447.7" y="25.2" font-size="22" text-anchor="start" font-weight="normal" >NDC-substances</text>
<line x1="384.7" y1="50.2" x2="433.09999999999997" y2="50.2" stroke="#2ca02c" stroke-opacity="0.6" stroke-width="3.4"/>
<path transform="translate(409.4,50.6)" d="M0.00,-10.10L-2.27,-3.12L-9.61,-3.12L-3.67,1.19L-5.94,8.17L-0.00,3.86L5.94,8.17L3.67,1.19L9.61,-3.12L2.27,-3.12Z" fill="#2ca02c" fill-opacity="0.6" stroke="#2ca02c" stroke-opacity="0.6" stroke-width="3.4" stroke-linejoin="round"/>
<text x="447.7" y="58.2" font-size="22" text-anchor="start" font-weight="normal" >contact-primary-school</text>
<line x1="745.3" y1="17.2" x2="793.6999999999999" y2="17.2" stroke="#2ca02c" stroke-opacity="0.6" stroke-width="3.4"/>
<path transform="translate(770.0,17.6)" d="M0.00,-10.10L-2.27,-3.12L-9.61,-3.12L-3.67,1.19L-5.94,8.17L-0.00,3.86L5.94,8.17L3.67,1.19L9.61,-3.12L2.27,-3.12Z" fill="#2ca02c" fill-opacity="0.6" stroke="#2ca02c" stroke-opacity="0.6" stroke-width="3.4" stroke-linejoin="round"/>
<text x="809.9" y="25.2" font-size="22" text-anchor="start" font-weight="normal" >contact-high-school</text>
<line x1="745.3" y1="50.2" x2="793.6999999999999" y2="50.2" stroke="#d62728" stroke-opacity="0.6" stroke-width="3.4"/>
<path transform="translate(769.5,50.8)" d="M0,11.30L-11.30,-11.30L11.30,-11.30Z" fill="#d62728" fill-opacity="0.6" stroke="#d62728" stroke-opacity="0.6" stroke-width="3.4" stroke-linejoin="miter"/>
<text x="809.9" y="58.2" font-size="22" text-anchor="start" font-weight="normal" >tags-math-sx</text>
<line x1="1070.8" y1="17.2" x2="1119.2" y2="17.2" stroke="#d62728" stroke-opacity="0.6" stroke-width="3.4"/>
<path transform="translate(1095.0,17.8)" d="M0,11.30L-11.30,-11.30L11.30,-11.30Z" fill="#d62728" fill-opacity="0.6" stroke="#d62728" stroke-opacity="0.6" stroke-width="3.4" stroke-linejoin="miter"/>
<text x="1133.2" y="25.2" font-size="22" text-anchor="start" font-weight="normal" >tags-ask-ubuntu</text>
<line x1="1070.8" y1="50.2" x2="1119.2" y2="50.2" stroke="#9467bd" stroke-opacity="0.6" stroke-width="3.4"/>
<path transform="translate(1095.0,50.2)" d="M-11.00,0H11.00M0,-11.00V11.00" fill="none" stroke="#9467bd" stroke-opacity="0.6" stroke-width="3.4"/>
<text x="1133.2" y="58.2" font-size="22" text-anchor="start" font-weight="normal" >coauth-MAG-Geology</text>
<line x1="1411.0" y1="17.2" x2="1459.4" y2="17.2" stroke="#9467bd" stroke-opacity="0.6" stroke-width="3.4"/>
<path transform="translate(1435.2,17.2)" d="M-11.00,0H11.00M0,-11.00V11.00" fill="none" stroke="#9467bd" stroke-opacity="0.6" stroke-width="3.4"/>
<text x="1474.9" y="25.2" font-size="22" text-anchor="start" font-weight="normal" >coauth-MAG-History</text>
</svg></body></html>
